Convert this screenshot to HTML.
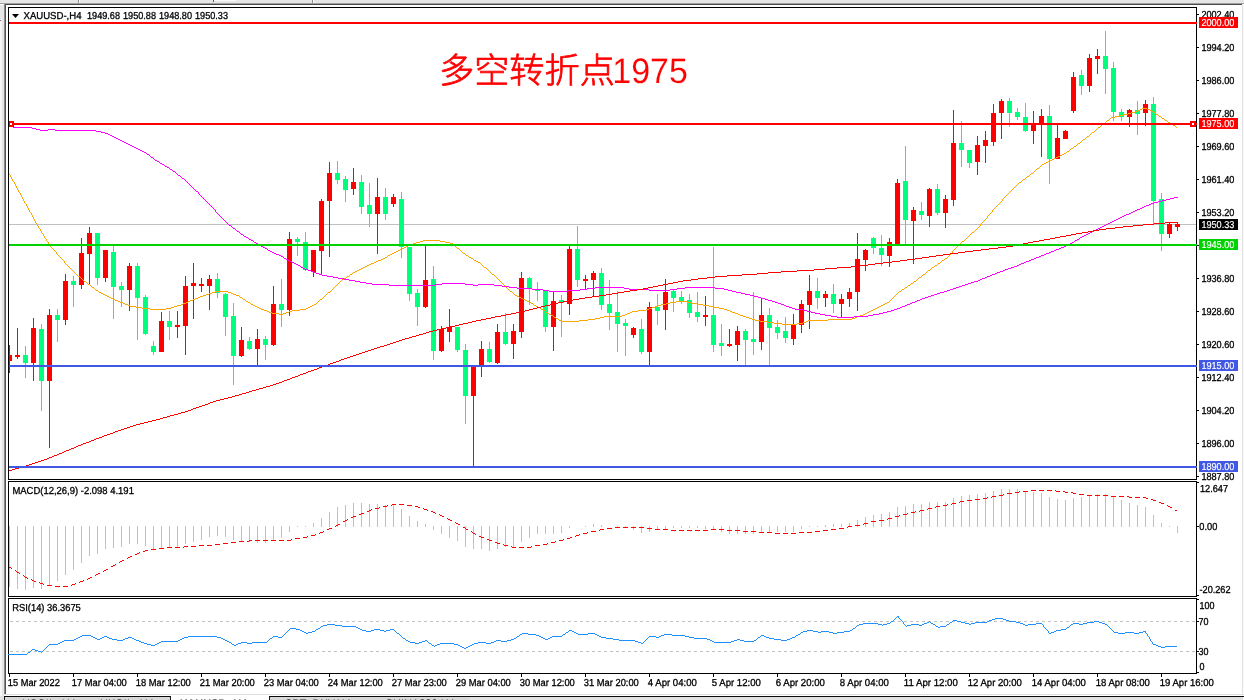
<!DOCTYPE html>
<html><head><meta charset="utf-8"><title>XAUUSD H4</title>
<style>
html,body{margin:0;padding:0;background:#fff;overflow:hidden}
svg{display:block}
text{font-family:"Liberation Sans",sans-serif;text-rendering:geometricPrecision;}
</style></head><body>
<svg width="1244" height="700" viewBox="0 0 1244 700">
<rect x="0" y="0" width="1244" height="700" fill="#ffffff"/>
<rect x="0" y="0" width="1244" height="3" fill="#e6e6e6"/>
<rect x="0" y="3" width="1244" height="1" fill="#a0a0a0"/>
<rect x="4" y="4" width="1238" height="1" fill="#4a4a4a"/>
<rect x="0" y="4" width="4" height="696" fill="#e6e6e6"/>
<rect x="0" y="4" width="4" height="1" fill="#ffffff"/>
<rect x="4" y="4" width="1" height="690" fill="#8a8a8a"/>
<rect x="5" y="4" width="1" height="690" fill="#555555"/>
<rect x="1242" y="5" width="1" height="690" fill="#e2e2e2"/>
<rect x="1243" y="5" width="1" height="695" fill="#fafafa"/>
<rect x="0" y="21" width="2" height="679" fill="#f6f6f6"/>
<rect x="0" y="20" width="1" height="1" fill="#777777"/>
<rect x="78" y="0" width="1" height="3" fill="#8c8c8c"/>
<rect x="79" y="0" width="1" height="3" fill="#ffffff"/>
<rect x="312" y="0" width="1" height="3" fill="#8c8c8c"/>
<rect x="313" y="0" width="1" height="3" fill="#ffffff"/>
<rect x="213" y="0" width="1" height="2" fill="#555555"/>
<rect x="214" y="0" width="22" height="1" fill="#f8f8f8"/>
<rect x="4" y="694" width="1240" height="1" fill="#dcdcdc"/>
<rect x="0" y="696" width="1243" height="4" fill="#e2e2e2"/>
<rect x="4" y="697" width="466" height="3" fill="#d8d8d8"/>
<rect x="4" y="696" width="1240" height="1" fill="#0a0a0a"/>
<rect x="4" y="697" width="1" height="3" fill="#1a1a1a"/>
<rect x="170" y="697" width="1" height="3" fill="#1a1a1a"/>
<rect x="171" y="696" width="98" height="4" fill="#ffffff"/>
<rect x="269" y="697" width="1" height="3" fill="#1a1a1a"/>
<rect x="8" y="7" width="1189" height="1" fill="#000"/>
<rect x="8" y="479" width="1189" height="1" fill="#000"/>
<rect x="8" y="7" width="1" height="473" fill="#000"/>
<rect x="1196" y="7" width="1" height="473" fill="#000"/>
<rect x="8" y="481" width="1189" height="1" fill="#000"/>
<rect x="8" y="596" width="1189" height="1" fill="#000"/>
<rect x="8" y="481" width="1" height="116" fill="#000"/>
<rect x="1196" y="481" width="1" height="116" fill="#000"/>
<rect x="8" y="598" width="1189" height="1" fill="#000"/>
<rect x="8" y="673" width="1189" height="1" fill="#000"/>
<rect x="8" y="598" width="1" height="76" fill="#000"/>
<rect x="1196" y="598" width="1" height="76" fill="#000"/>
<g shape-rendering="crispEdges">
<rect x="9" y="224" width="1187" height="1" fill="#c0c0c0"/>
<rect x="9" y="345" width="1" height="28" fill="#ff0000"/>
<rect x="9" y="355" width="3" height="6" fill="#ff0000"/>
<rect x="17" y="328" width="1" height="31" fill="#ff0000"/>
<rect x="15" y="355" width="5" height="2" fill="#ff0000"/>
<rect x="25" y="346" width="1" height="32" fill="#00ff7f"/>
<rect x="23" y="355" width="5" height="8" fill="#00ff7f"/>
<rect x="33" y="318" width="1" height="63" fill="#ff0000"/>
<rect x="31" y="328" width="5" height="35" fill="#ff0000"/>
<rect x="41" y="324" width="1" height="87" fill="#00ff7f"/>
<rect x="39" y="329" width="5" height="52" fill="#00ff7f"/>
<rect x="49" y="309" width="1" height="139" fill="#ff0000"/>
<rect x="47" y="315" width="5" height="66" fill="#ff0000"/>
<rect x="57" y="309" width="1" height="33" fill="#00ff7f"/>
<rect x="55" y="315" width="5" height="5" fill="#00ff7f"/>
<rect x="65" y="274" width="1" height="51" fill="#ff0000"/>
<rect x="63" y="281" width="5" height="39" fill="#ff0000"/>
<rect x="73" y="276" width="1" height="31" fill="#00ff7f"/>
<rect x="71" y="281" width="5" height="4" fill="#00ff7f"/>
<rect x="81" y="238" width="1" height="51" fill="#ff0000"/>
<rect x="79" y="253" width="5" height="32" fill="#ff0000"/>
<rect x="89" y="227" width="1" height="57" fill="#ff0000"/>
<rect x="87" y="233" width="5" height="21" fill="#ff0000"/>
<rect x="97" y="233" width="1" height="52" fill="#00ff7f"/>
<rect x="95" y="233" width="5" height="45" fill="#00ff7f"/>
<rect x="105" y="250" width="1" height="32" fill="#ff0000"/>
<rect x="103" y="250" width="5" height="28" fill="#ff0000"/>
<rect x="113" y="246" width="1" height="73" fill="#00ff7f"/>
<rect x="111" y="252" width="5" height="35" fill="#00ff7f"/>
<rect x="121" y="282" width="1" height="25" fill="#00ff7f"/>
<rect x="119" y="286" width="5" height="4" fill="#00ff7f"/>
<rect x="129" y="263" width="1" height="48" fill="#ff0000"/>
<rect x="127" y="266" width="5" height="24" fill="#ff0000"/>
<rect x="137" y="263" width="1" height="77" fill="#00ff7f"/>
<rect x="135" y="266" width="5" height="32" fill="#00ff7f"/>
<rect x="145" y="295" width="1" height="40" fill="#00ff7f"/>
<rect x="143" y="297" width="5" height="37" fill="#00ff7f"/>
<rect x="153" y="341" width="1" height="14" fill="#00ff7f"/>
<rect x="151" y="346" width="5" height="6" fill="#00ff7f"/>
<rect x="161" y="312" width="1" height="40" fill="#ff0000"/>
<rect x="159" y="321" width="5" height="31" fill="#ff0000"/>
<rect x="169" y="311" width="1" height="29" fill="#00ff7f"/>
<rect x="167" y="321" width="5" height="6" fill="#00ff7f"/>
<rect x="177" y="311" width="1" height="27" fill="#ff0000"/>
<rect x="175" y="325" width="5" height="2" fill="#ff0000"/>
<rect x="185" y="276" width="1" height="79" fill="#ff0000"/>
<rect x="183" y="286" width="5" height="40" fill="#ff0000"/>
<rect x="193" y="263" width="1" height="56" fill="#ff0000"/>
<rect x="191" y="283" width="5" height="3" fill="#ff0000"/>
<rect x="201" y="278" width="1" height="14" fill="#ff0000"/>
<rect x="199" y="284" width="5" height="2" fill="#ff0000"/>
<rect x="209" y="275" width="1" height="35" fill="#ff0000"/>
<rect x="207" y="279" width="5" height="7" fill="#ff0000"/>
<rect x="217" y="273" width="1" height="25" fill="#00ff7f"/>
<rect x="215" y="279" width="5" height="14" fill="#00ff7f"/>
<rect x="225" y="293" width="1" height="43" fill="#00ff7f"/>
<rect x="223" y="294" width="5" height="23" fill="#00ff7f"/>
<rect x="233" y="303" width="1" height="82" fill="#00ff7f"/>
<rect x="231" y="316" width="5" height="40" fill="#00ff7f"/>
<rect x="241" y="327" width="1" height="30" fill="#ff0000"/>
<rect x="239" y="340" width="5" height="16" fill="#ff0000"/>
<rect x="249" y="337" width="1" height="13" fill="#00ff7f"/>
<rect x="247" y="341" width="5" height="8" fill="#00ff7f"/>
<rect x="257" y="329" width="1" height="36" fill="#ff0000"/>
<rect x="255" y="339" width="5" height="10" fill="#ff0000"/>
<rect x="265" y="336" width="1" height="24" fill="#00ff7f"/>
<rect x="263" y="339" width="5" height="6" fill="#00ff7f"/>
<rect x="273" y="286" width="1" height="60" fill="#ff0000"/>
<rect x="271" y="304" width="5" height="41" fill="#ff0000"/>
<rect x="281" y="279" width="1" height="48" fill="#00ff7f"/>
<rect x="279" y="304" width="5" height="6" fill="#00ff7f"/>
<rect x="289" y="232" width="1" height="84" fill="#ff0000"/>
<rect x="287" y="239" width="5" height="71" fill="#ff0000"/>
<rect x="297" y="237" width="1" height="19" fill="#00ff7f"/>
<rect x="295" y="239" width="5" height="3" fill="#00ff7f"/>
<rect x="305" y="232" width="1" height="39" fill="#00ff7f"/>
<rect x="303" y="242" width="5" height="28" fill="#00ff7f"/>
<rect x="313" y="250" width="1" height="27" fill="#ff0000"/>
<rect x="311" y="250" width="5" height="22" fill="#ff0000"/>
<rect x="321" y="199" width="1" height="76" fill="#ff0000"/>
<rect x="319" y="201" width="5" height="50" fill="#ff0000"/>
<rect x="329" y="162" width="1" height="95" fill="#ff0000"/>
<rect x="327" y="173" width="5" height="28" fill="#ff0000"/>
<rect x="337" y="161" width="1" height="23" fill="#00ff7f"/>
<rect x="335" y="173" width="5" height="7" fill="#00ff7f"/>
<rect x="345" y="176" width="1" height="26" fill="#00ff7f"/>
<rect x="343" y="179" width="5" height="11" fill="#00ff7f"/>
<rect x="353" y="168" width="1" height="27" fill="#ff0000"/>
<rect x="351" y="182" width="5" height="7" fill="#ff0000"/>
<rect x="361" y="175" width="1" height="39" fill="#00ff7f"/>
<rect x="359" y="182" width="5" height="25" fill="#00ff7f"/>
<rect x="369" y="183" width="1" height="44" fill="#00ff7f"/>
<rect x="367" y="205" width="5" height="9" fill="#00ff7f"/>
<rect x="377" y="178" width="1" height="76" fill="#ff0000"/>
<rect x="375" y="197" width="5" height="17" fill="#ff0000"/>
<rect x="385" y="188" width="1" height="32" fill="#00ff7f"/>
<rect x="383" y="197" width="5" height="17" fill="#00ff7f"/>
<rect x="393" y="194" width="1" height="13" fill="#ff0000"/>
<rect x="391" y="197" width="5" height="7" fill="#ff0000"/>
<rect x="401" y="192" width="1" height="66" fill="#00ff7f"/>
<rect x="399" y="199" width="5" height="48" fill="#00ff7f"/>
<rect x="409" y="247" width="1" height="54" fill="#00ff7f"/>
<rect x="407" y="247" width="5" height="47" fill="#00ff7f"/>
<rect x="417" y="289" width="1" height="37" fill="#00ff7f"/>
<rect x="415" y="293" width="5" height="14" fill="#00ff7f"/>
<rect x="425" y="246" width="1" height="62" fill="#ff0000"/>
<rect x="423" y="280" width="5" height="27" fill="#ff0000"/>
<rect x="433" y="266" width="1" height="94" fill="#00ff7f"/>
<rect x="431" y="279" width="5" height="72" fill="#00ff7f"/>
<rect x="441" y="326" width="1" height="26" fill="#ff0000"/>
<rect x="439" y="329" width="5" height="22" fill="#ff0000"/>
<rect x="449" y="309" width="1" height="33" fill="#ff0000"/>
<rect x="447" y="327" width="5" height="5" fill="#ff0000"/>
<rect x="457" y="327" width="1" height="25" fill="#00ff7f"/>
<rect x="455" y="327" width="5" height="23" fill="#00ff7f"/>
<rect x="465" y="344" width="1" height="80" fill="#00ff7f"/>
<rect x="463" y="350" width="5" height="46" fill="#00ff7f"/>
<rect x="473" y="367" width="1" height="99" fill="#ff0000"/>
<rect x="471" y="367" width="5" height="29" fill="#ff0000"/>
<rect x="481" y="341" width="1" height="36" fill="#ff0000"/>
<rect x="479" y="349" width="5" height="16" fill="#ff0000"/>
<rect x="489" y="342" width="1" height="21" fill="#00ff7f"/>
<rect x="487" y="349" width="5" height="13" fill="#00ff7f"/>
<rect x="497" y="324" width="1" height="40" fill="#ff0000"/>
<rect x="495" y="332" width="5" height="31" fill="#ff0000"/>
<rect x="505" y="313" width="1" height="32" fill="#00ff7f"/>
<rect x="503" y="332" width="5" height="12" fill="#00ff7f"/>
<rect x="513" y="324" width="1" height="35" fill="#ff0000"/>
<rect x="511" y="331" width="5" height="13" fill="#ff0000"/>
<rect x="521" y="272" width="1" height="66" fill="#ff0000"/>
<rect x="519" y="278" width="5" height="54" fill="#ff0000"/>
<rect x="529" y="277" width="1" height="28" fill="#00ff7f"/>
<rect x="527" y="278" width="5" height="11" fill="#00ff7f"/>
<rect x="537" y="282" width="1" height="19" fill="#00ff7f"/>
<rect x="535" y="290" width="5" height="1" fill="#00ff7f"/>
<rect x="545" y="290" width="1" height="42" fill="#00ff7f"/>
<rect x="543" y="291" width="5" height="36" fill="#00ff7f"/>
<rect x="553" y="292" width="1" height="59" fill="#ff0000"/>
<rect x="551" y="301" width="5" height="26" fill="#ff0000"/>
<rect x="561" y="295" width="1" height="42" fill="#00ff7f"/>
<rect x="559" y="300" width="5" height="3" fill="#00ff7f"/>
<rect x="569" y="246" width="1" height="69" fill="#ff0000"/>
<rect x="567" y="249" width="5" height="55" fill="#ff0000"/>
<rect x="577" y="226" width="1" height="61" fill="#00ff7f"/>
<rect x="575" y="249" width="5" height="31" fill="#00ff7f"/>
<rect x="585" y="275" width="1" height="14" fill="#ff0000"/>
<rect x="583" y="279" width="5" height="2" fill="#ff0000"/>
<rect x="593" y="271" width="1" height="26" fill="#ff0000"/>
<rect x="591" y="273" width="5" height="7" fill="#ff0000"/>
<rect x="601" y="268" width="1" height="42" fill="#00ff7f"/>
<rect x="599" y="273" width="5" height="32" fill="#00ff7f"/>
<rect x="609" y="280" width="1" height="50" fill="#00ff7f"/>
<rect x="607" y="304" width="5" height="9" fill="#00ff7f"/>
<rect x="617" y="291" width="1" height="61" fill="#00ff7f"/>
<rect x="615" y="312" width="5" height="12" fill="#00ff7f"/>
<rect x="625" y="319" width="1" height="37" fill="#00ff7f"/>
<rect x="623" y="323" width="5" height="3" fill="#00ff7f"/>
<rect x="633" y="327" width="1" height="11" fill="#ff0000"/>
<rect x="631" y="328" width="5" height="7" fill="#ff0000"/>
<rect x="641" y="319" width="1" height="35" fill="#00ff7f"/>
<rect x="639" y="329" width="5" height="23" fill="#00ff7f"/>
<rect x="649" y="302" width="1" height="63" fill="#ff0000"/>
<rect x="647" y="307" width="5" height="45" fill="#ff0000"/>
<rect x="657" y="294" width="1" height="31" fill="#00ff7f"/>
<rect x="655" y="307" width="5" height="4" fill="#00ff7f"/>
<rect x="665" y="279" width="1" height="51" fill="#ff0000"/>
<rect x="663" y="292" width="5" height="18" fill="#ff0000"/>
<rect x="673" y="290" width="1" height="22" fill="#00ff7f"/>
<rect x="671" y="291" width="5" height="7" fill="#00ff7f"/>
<rect x="681" y="291" width="1" height="13" fill="#00ff7f"/>
<rect x="679" y="297" width="5" height="4" fill="#00ff7f"/>
<rect x="689" y="294" width="1" height="24" fill="#00ff7f"/>
<rect x="687" y="300" width="5" height="13" fill="#00ff7f"/>
<rect x="697" y="292" width="1" height="30" fill="#00ff7f"/>
<rect x="695" y="312" width="5" height="5" fill="#00ff7f"/>
<rect x="705" y="296" width="1" height="30" fill="#ff0000"/>
<rect x="703" y="315" width="5" height="2" fill="#ff0000"/>
<rect x="713" y="247" width="1" height="105" fill="#00ff7f"/>
<rect x="711" y="315" width="5" height="30" fill="#00ff7f"/>
<rect x="721" y="324" width="1" height="32" fill="#00ff7f"/>
<rect x="719" y="343" width="5" height="3" fill="#00ff7f"/>
<rect x="729" y="329" width="1" height="18" fill="#ff0000"/>
<rect x="727" y="344" width="5" height="2" fill="#ff0000"/>
<rect x="737" y="326" width="1" height="35" fill="#ff0000"/>
<rect x="735" y="331" width="5" height="14" fill="#ff0000"/>
<rect x="745" y="329" width="1" height="36" fill="#00ff7f"/>
<rect x="743" y="331" width="5" height="9" fill="#00ff7f"/>
<rect x="753" y="292" width="1" height="63" fill="#00ff7f"/>
<rect x="751" y="339" width="5" height="3" fill="#00ff7f"/>
<rect x="761" y="299" width="1" height="51" fill="#ff0000"/>
<rect x="759" y="315" width="5" height="27" fill="#ff0000"/>
<rect x="769" y="308" width="1" height="57" fill="#00ff7f"/>
<rect x="767" y="315" width="5" height="13" fill="#00ff7f"/>
<rect x="777" y="320" width="1" height="19" fill="#00ff7f"/>
<rect x="775" y="327" width="5" height="6" fill="#00ff7f"/>
<rect x="785" y="317" width="1" height="26" fill="#00ff7f"/>
<rect x="783" y="331" width="5" height="7" fill="#00ff7f"/>
<rect x="793" y="314" width="1" height="31" fill="#ff0000"/>
<rect x="791" y="325" width="5" height="14" fill="#ff0000"/>
<rect x="801" y="300" width="1" height="33" fill="#ff0000"/>
<rect x="799" y="304" width="5" height="21" fill="#ff0000"/>
<rect x="809" y="275" width="1" height="54" fill="#ff0000"/>
<rect x="807" y="291" width="5" height="14" fill="#ff0000"/>
<rect x="817" y="278" width="1" height="31" fill="#00ff7f"/>
<rect x="815" y="291" width="5" height="7" fill="#00ff7f"/>
<rect x="825" y="291" width="1" height="16" fill="#ff0000"/>
<rect x="823" y="294" width="5" height="4" fill="#ff0000"/>
<rect x="833" y="284" width="1" height="29" fill="#00ff7f"/>
<rect x="831" y="294" width="5" height="10" fill="#00ff7f"/>
<rect x="841" y="294" width="1" height="23" fill="#ff0000"/>
<rect x="839" y="299" width="5" height="5" fill="#ff0000"/>
<rect x="849" y="288" width="1" height="19" fill="#ff0000"/>
<rect x="847" y="292" width="5" height="7" fill="#ff0000"/>
<rect x="857" y="233" width="1" height="78" fill="#ff0000"/>
<rect x="855" y="259" width="5" height="33" fill="#ff0000"/>
<rect x="865" y="249" width="1" height="22" fill="#ff0000"/>
<rect x="863" y="250" width="5" height="10" fill="#ff0000"/>
<rect x="873" y="237" width="1" height="17" fill="#00ff7f"/>
<rect x="871" y="238" width="5" height="10" fill="#00ff7f"/>
<rect x="881" y="235" width="1" height="31" fill="#00ff7f"/>
<rect x="879" y="248" width="5" height="7" fill="#00ff7f"/>
<rect x="889" y="238" width="1" height="29" fill="#ff0000"/>
<rect x="887" y="242" width="5" height="14" fill="#ff0000"/>
<rect x="897" y="179" width="1" height="67" fill="#ff0000"/>
<rect x="895" y="183" width="5" height="63" fill="#ff0000"/>
<rect x="905" y="146" width="1" height="100" fill="#00ff7f"/>
<rect x="903" y="181" width="5" height="39" fill="#00ff7f"/>
<rect x="913" y="207" width="1" height="57" fill="#ff0000"/>
<rect x="911" y="210" width="5" height="11" fill="#ff0000"/>
<rect x="921" y="202" width="1" height="18" fill="#00ff7f"/>
<rect x="919" y="211" width="5" height="4" fill="#00ff7f"/>
<rect x="929" y="188" width="1" height="39" fill="#ff0000"/>
<rect x="927" y="189" width="5" height="27" fill="#ff0000"/>
<rect x="937" y="184" width="1" height="31" fill="#00ff7f"/>
<rect x="935" y="189" width="5" height="24" fill="#00ff7f"/>
<rect x="945" y="195" width="1" height="33" fill="#ff0000"/>
<rect x="943" y="199" width="5" height="14" fill="#ff0000"/>
<rect x="953" y="110" width="1" height="96" fill="#ff0000"/>
<rect x="951" y="143" width="5" height="57" fill="#ff0000"/>
<rect x="961" y="121" width="1" height="46" fill="#00ff7f"/>
<rect x="959" y="143" width="5" height="7" fill="#00ff7f"/>
<rect x="969" y="150" width="1" height="18" fill="#00ff7f"/>
<rect x="967" y="150" width="5" height="13" fill="#00ff7f"/>
<rect x="977" y="136" width="1" height="39" fill="#ff0000"/>
<rect x="975" y="145" width="5" height="17" fill="#ff0000"/>
<rect x="985" y="131" width="1" height="32" fill="#ff0000"/>
<rect x="983" y="140" width="5" height="6" fill="#ff0000"/>
<rect x="993" y="104" width="1" height="42" fill="#ff0000"/>
<rect x="991" y="113" width="5" height="29" fill="#ff0000"/>
<rect x="1001" y="99" width="1" height="40" fill="#ff0000"/>
<rect x="999" y="101" width="5" height="12" fill="#ff0000"/>
<rect x="1009" y="98" width="1" height="29" fill="#00ff7f"/>
<rect x="1007" y="101" width="5" height="12" fill="#00ff7f"/>
<rect x="1017" y="108" width="1" height="12" fill="#00ff7f"/>
<rect x="1015" y="112" width="5" height="5" fill="#00ff7f"/>
<rect x="1025" y="103" width="1" height="29" fill="#00ff7f"/>
<rect x="1023" y="117" width="5" height="14" fill="#00ff7f"/>
<rect x="1033" y="111" width="1" height="33" fill="#ff0000"/>
<rect x="1031" y="125" width="5" height="6" fill="#ff0000"/>
<rect x="1041" y="109" width="1" height="48" fill="#ff0000"/>
<rect x="1039" y="116" width="5" height="9" fill="#ff0000"/>
<rect x="1049" y="105" width="1" height="79" fill="#00ff7f"/>
<rect x="1047" y="116" width="5" height="43" fill="#00ff7f"/>
<rect x="1057" y="125" width="1" height="34" fill="#ff0000"/>
<rect x="1055" y="138" width="5" height="21" fill="#ff0000"/>
<rect x="1065" y="130" width="1" height="9" fill="#ff0000"/>
<rect x="1063" y="131" width="5" height="8" fill="#ff0000"/>
<rect x="1073" y="72" width="1" height="41" fill="#ff0000"/>
<rect x="1071" y="77" width="5" height="34" fill="#ff0000"/>
<rect x="1081" y="70" width="1" height="25" fill="#00ff7f"/>
<rect x="1079" y="75" width="5" height="11" fill="#00ff7f"/>
<rect x="1089" y="54" width="1" height="38" fill="#ff0000"/>
<rect x="1087" y="58" width="5" height="28" fill="#ff0000"/>
<rect x="1097" y="49" width="1" height="25" fill="#ff0000"/>
<rect x="1095" y="56" width="5" height="3" fill="#ff0000"/>
<rect x="1105" y="31" width="1" height="63" fill="#00ff7f"/>
<rect x="1103" y="56" width="5" height="13" fill="#00ff7f"/>
<rect x="1113" y="62" width="1" height="59" fill="#00ff7f"/>
<rect x="1111" y="68" width="5" height="44" fill="#00ff7f"/>
<rect x="1121" y="109" width="1" height="12" fill="#00ff7f"/>
<rect x="1119" y="112" width="5" height="5" fill="#00ff7f"/>
<rect x="1129" y="109" width="1" height="18" fill="#ff0000"/>
<rect x="1127" y="110" width="5" height="7" fill="#ff0000"/>
<rect x="1137" y="101" width="1" height="34" fill="#00ff7f"/>
<rect x="1135" y="110" width="5" height="4" fill="#00ff7f"/>
<rect x="1145" y="100" width="1" height="26" fill="#ff0000"/>
<rect x="1143" y="104" width="5" height="9" fill="#ff0000"/>
<rect x="1153" y="97" width="1" height="127" fill="#00ff7f"/>
<rect x="1151" y="104" width="5" height="97" fill="#00ff7f"/>
<rect x="1161" y="193" width="1" height="58" fill="#00ff7f"/>
<rect x="1159" y="199" width="5" height="35" fill="#00ff7f"/>
<rect x="1169" y="223" width="1" height="15" fill="#ff0000"/>
<rect x="1167" y="224" width="5" height="10" fill="#ff0000"/>
<rect x="1177" y="223" width="1" height="8" fill="#ff0000"/>
<rect x="1175" y="224" width="5" height="3" fill="#ff0000"/>
</g>
<path d="M9 174h1v1h-1zM10 175h1v2h-1zM11 177h1v2h-1zM12 179h1v2h-1zM13 181h1v1h-1zM14 182h1v2h-1zM15 184h1v2h-1zM16 186h1v2h-1zM17 188h1v2h-1zM18 190h1v2h-1zM19 192h1v1h-1zM20 193h1v2h-1zM21 195h1v2h-1zM22 197h1v2h-1zM23 199h1v2h-1zM24 201h1v2h-1zM25 203h1v1h-1zM26 204h1v2h-1zM27 206h1v2h-1zM28 208h1v2h-1zM29 210h1v2h-1zM30 212h1v1h-1zM31 213h1v2h-1zM32 215h1v2h-1zM33 217h1v2h-1zM34 219h1v2h-1zM35 221h1v2h-1zM36 223h1v1h-1zM37 224h1v2h-1zM38 226h1v2h-1zM39 228h1v1h-1zM40 229h1v2h-1zM41 231h1v2h-1zM42 233h1v1h-1zM43 234h1v2h-1zM44 236h1v2h-1zM45 238h1v1h-1zM46 239h1v2h-1zM47 241h1v1h-1zM48 242h1v2h-1zM49 244h1v2h-1zM50 246h1v1h-1zM51 247h1v1h-1zM52 248h1v1h-1zM53 249h1v1h-1zM54 250h1v1h-1zM55 251h1v1h-1zM56 252h1v2h-1zM57 254h1v1h-1zM58 255h1v1h-1zM59 256h1v1h-1zM60 257h1v1h-1zM61 258h1v1h-1zM62 259h1v1h-1zM63 260h1v1h-1zM64 261h1v2h-1zM65 263h1v1h-1zM66 264h1v1h-1zM67 265h1v1h-1zM68 266h1v1h-1zM69 267h1v1h-1zM70 268h1v1h-1zM71 269h1v1h-1zM72 270h1v1h-1zM73 271h1v1h-1zM74 272h1v1h-1zM75 273h1v1h-1zM76 274h1v1h-1zM77 275h1v1h-1zM78 276h2v1h-2zM80 277h1v1h-1zM81 278h1v1h-1zM82 279h1v1h-1zM83 280h1v1h-1zM84 281h2v1h-2zM86 282h1v1h-1zM87 283h1v1h-1zM88 284h2v1h-2zM90 285h1v1h-1zM91 286h1v1h-1zM92 287h2v1h-2zM94 288h1v1h-1zM95 289h1v1h-1zM96 290h2v1h-2zM98 291h1v1h-1zM99 292h2v1h-2zM101 293h2v1h-2zM103 294h2v1h-2zM105 295h2v1h-2zM107 296h2v1h-2zM109 297h2v1h-2zM111 298h2v1h-2zM113 299h2v1h-2zM115 300h3v1h-3zM118 301h2v1h-2zM120 302h3v1h-3zM123 303h2v1h-2zM125 304h3v1h-3zM128 305h2v1h-2zM130 306h6v1h-6zM136 307h6v1h-6zM142 308h8v1h-8zM150 309h16v1h-16zM166 308h5v1h-5zM171 307h3v1h-3zM174 306h3v1h-3zM177 305h4v1h-4zM181 304h2v1h-2zM183 303h3v1h-3zM186 302h2v1h-2zM188 301h2v1h-2zM190 300h3v1h-3zM193 299h2v1h-2zM195 298h3v1h-3zM198 297h2v1h-2zM200 296h3v1h-3zM203 295h3v1h-3zM206 294h3v1h-3zM209 293h3v1h-3zM212 292h3v1h-3zM215 291h2v1h-2zM217 290h1v1h-1zM218 291h10v1h-10zM228 292h3v1h-3zM231 293h2v1h-2zM233 294h3v1h-3zM236 295h3v1h-3zM239 296h1v1h-1zM240 297h2v1h-2zM242 298h1v1h-1zM243 299h2v1h-2zM245 300h1v1h-1zM246 301h2v1h-2zM248 302h2v1h-2zM250 303h1v1h-1zM251 304h2v1h-2zM253 305h2v1h-2zM255 306h2v1h-2zM257 307h2v1h-2zM259 308h2v1h-2zM261 309h3v1h-3zM264 310h3v1h-3zM267 311h2v1h-2zM269 312h3v1h-3zM272 313h7v1h-7zM279 314h4v1h-4zM283 313h3v1h-3zM286 312h3v1h-3zM289 311h3v1h-3zM292 310h8v1h-8zM300 309h6v1h-6zM306 308h2v1h-2zM308 307h2v1h-2zM310 306h2v1h-2zM312 305h2v1h-2zM314 304h2v1h-2zM316 303h1v1h-1zM317 302h1v1h-1zM318 301h1v1h-1zM319 300h1v1h-1zM320 299h2v1h-2zM322 298h1v1h-1zM323 297h1v1h-1zM324 296h1v1h-1zM325 295h1v1h-1zM326 294h1v1h-1zM327 293h1v1h-1zM328 292h2v1h-2zM330 291h1v1h-1zM331 290h1v1h-1zM332 289h1v1h-1zM333 288h1v1h-1zM334 287h1v1h-1zM335 286h1v1h-1zM336 285h1v1h-1zM337 284h1v1h-1zM338 283h1v1h-1zM339 282h1v1h-1zM340 281h1v1h-1zM341 280h1v1h-1zM342 279h2v1h-2zM344 278h2v1h-2zM346 277h1v1h-1zM347 276h2v1h-2zM349 275h1v1h-1zM350 274h2v1h-2zM352 273h1v1h-1zM353 272h2v1h-2zM355 271h2v1h-2zM357 270h2v1h-2zM359 269h2v1h-2zM361 268h2v1h-2zM363 267h2v1h-2zM365 266h2v1h-2zM367 265h2v1h-2zM369 264h2v1h-2zM371 263h3v1h-3zM374 262h2v1h-2zM376 261h2v1h-2zM378 260h3v1h-3zM381 259h2v1h-2zM383 258h2v1h-2zM385 257h2v1h-2zM387 256h1v1h-1zM388 255h2v1h-2zM390 254h2v1h-2zM392 253h2v1h-2zM394 252h2v1h-2zM396 251h2v1h-2zM398 250h2v1h-2zM400 249h2v1h-2zM402 248h2v1h-2zM404 247h2v1h-2zM406 246h2v1h-2zM408 245h2v1h-2zM410 244h3v1h-3zM413 243h3v1h-3zM416 242h4v1h-4zM420 241h3v1h-3zM423 240h17v1h-17zM440 241h5v1h-5zM445 242h5v1h-5zM450 243h3v1h-3zM453 244h1v1h-1zM454 245h1v1h-1zM455 246h1v1h-1zM456 247h1v1h-1zM457 248h2v1h-2zM459 249h1v1h-1zM460 250h1v1h-1zM461 251h1v1h-1zM462 252h1v1h-1zM463 253h2v1h-2zM465 254h1v1h-1zM466 255h2v1h-2zM468 256h1v1h-1zM469 257h2v1h-2zM471 258h2v1h-2zM473 259h1v1h-1zM474 260h2v1h-2zM476 261h2v1h-2zM478 262h2v1h-2zM480 263h1v1h-1zM481 264h1v1h-1zM482 265h1v1h-1zM483 266h1v1h-1zM484 267h2v1h-2zM486 268h1v1h-1zM487 269h1v1h-1zM488 270h1v1h-1zM489 271h1v1h-1zM490 272h1v1h-1zM491 273h1v1h-1zM492 274h2v1h-2zM494 275h1v1h-1zM495 276h1v1h-1zM496 277h1v1h-1zM497 278h1v1h-1zM498 279h1v1h-1zM499 280h1v1h-1zM500 281h1v1h-1zM501 282h1v1h-1zM502 283h1v1h-1zM503 284h1v1h-1zM504 285h1v1h-1zM505 286h1v1h-1zM506 287h1v1h-1zM507 288h1v1h-1zM508 289h1v1h-1zM509 290h1v1h-1zM510 291h2v1h-2zM512 292h1v1h-1zM513 293h1v1h-1zM514 294h1v1h-1zM515 295h2v1h-2zM517 296h2v1h-2zM519 297h2v1h-2zM521 298h2v1h-2zM523 299h2v1h-2zM525 300h2v1h-2zM527 301h2v1h-2zM529 302h2v1h-2zM531 303h2v1h-2zM533 304h1v1h-1zM534 305h2v1h-2zM536 306h2v1h-2zM538 307h2v1h-2zM540 308h1v1h-1zM541 309h2v1h-2zM543 310h2v1h-2zM545 311h1v1h-1zM546 312h2v1h-2zM548 313h1v1h-1zM549 314h2v1h-2zM551 315h2v1h-2zM553 316h1v1h-1zM554 317h2v1h-2zM556 318h2v1h-2zM558 319h1v1h-1zM559 320h2v1h-2zM561 321h18v1h-18zM579 320h9v1h-9zM588 319h7v1h-7zM595 318h5v1h-5zM600 317h4v1h-4zM604 316h18v1h-18zM622 315h3v1h-3zM625 314h2v1h-2zM627 313h3v1h-3zM630 312h2v1h-2zM632 311h6v1h-6zM638 310h8v1h-8zM646 309h3v1h-3zM649 308h3v1h-3zM652 307h3v1h-3zM655 306h3v1h-3zM658 305h3v1h-3zM661 304h5v1h-5zM666 303h4v1h-4zM670 302h6v1h-6zM676 301h11v1h-11zM687 302h4v1h-4zM691 303h6v1h-6zM697 304h6v1h-6zM703 305h6v1h-6zM709 306h5v1h-5zM714 307h5v1h-5zM719 308h5v1h-5zM724 309h3v1h-3zM727 310h3v1h-3zM730 311h2v1h-2zM732 312h3v1h-3zM735 313h3v1h-3zM738 314h2v1h-2zM740 315h3v1h-3zM743 316h3v1h-3zM746 317h3v1h-3zM749 318h3v1h-3zM752 319h3v1h-3zM755 320h5v1h-5zM760 321h7v1h-7zM767 322h7v1h-7zM774 323h8v1h-8zM782 324h15v1h-15zM797 323h6v1h-6zM803 322h3v1h-3zM806 321h2v1h-2zM808 320h20v1h-20zM828 319h24v1h-24zM852 318h3v1h-3zM855 317h2v1h-2zM857 316h3v1h-3zM860 315h3v1h-3zM863 314h2v1h-2zM865 313h2v1h-2zM867 312h2v1h-2zM869 311h2v1h-2zM871 310h2v1h-2zM873 309h2v1h-2zM875 308h2v1h-2zM877 307h2v1h-2zM879 306h2v1h-2zM881 305h2v1h-2zM883 304h2v1h-2zM885 303h2v1h-2zM887 302h2v1h-2zM889 301h1v1h-1zM890 300h1v1h-1zM891 299h1v1h-1zM892 298h1v1h-1zM893 297h1v1h-1zM894 296h1v1h-1zM895 295h1v1h-1zM896 294h1v1h-1zM897 293h1v1h-1zM898 292h1v1h-1zM899 291h2v1h-2zM901 290h1v1h-1zM902 289h2v1h-2zM904 288h1v1h-1zM905 287h2v1h-2zM907 286h1v1h-1zM908 285h2v1h-2zM910 284h1v1h-1zM911 283h2v1h-2zM913 282h1v1h-1zM914 281h2v1h-2zM916 280h1v1h-1zM917 279h1v1h-1zM918 278h1v1h-1zM919 277h2v1h-2zM921 276h1v1h-1zM922 275h1v1h-1zM923 274h2v1h-2zM925 273h1v1h-1zM926 272h1v1h-1zM927 271h1v1h-1zM928 270h2v1h-2zM930 269h1v1h-1zM931 268h1v1h-1zM932 267h2v1h-2zM934 266h1v1h-1zM935 265h2v1h-2zM937 264h1v1h-1zM938 263h2v1h-2zM940 262h1v1h-1zM941 261h1v1h-1zM942 260h2v1h-2zM944 259h1v1h-1zM945 258h2v1h-2zM947 257h1v1h-1zM948 256h1v1h-1zM949 255h1v1h-1zM950 254h1v1h-1zM951 253h1v1h-1zM952 251h1v2h-1zM953 250h1v1h-1zM954 249h1v1h-1zM955 248h1v1h-1zM956 247h1v1h-1zM957 246h1v1h-1zM958 245h1v1h-1zM959 244h1v1h-1zM960 243h1v1h-1zM961 242h1v1h-1zM962 241h2v1h-2zM964 240h1v1h-1zM965 239h1v1h-1zM966 238h1v1h-1zM967 237h1v1h-1zM968 236h1v1h-1zM969 235h1v1h-1zM970 234h1v1h-1zM971 233h1v1h-1zM972 232h2v1h-2zM974 231h1v1h-1zM975 230h1v1h-1zM976 229h1v1h-1zM977 228h1v1h-1zM978 227h1v1h-1zM979 226h1v1h-1zM980 224h1v2h-1zM981 223h1v1h-1zM982 222h1v1h-1zM983 221h1v1h-1zM984 220h1v1h-1zM985 219h1v1h-1zM986 218h1v1h-1zM987 216h1v2h-1zM988 215h1v1h-1zM989 214h1v1h-1zM990 213h1v1h-1zM991 212h1v1h-1zM992 210h1v2h-1zM993 209h1v1h-1zM994 208h1v1h-1zM995 207h1v1h-1zM996 206h1v1h-1zM997 205h1v1h-1zM998 204h1v1h-1zM999 203h1v1h-1zM1000 202h1v1h-1zM1001 201h1v1h-1zM1002 199h1v2h-1zM1003 198h1v1h-1zM1004 197h1v1h-1zM1005 196h1v1h-1zM1006 195h1v1h-1zM1007 194h1v1h-1zM1008 193h1v1h-1zM1009 192h1v1h-1zM1010 191h1v1h-1zM1011 190h1v1h-1zM1012 189h1v1h-1zM1013 188h1v1h-1zM1014 187h1v1h-1zM1015 186h1v1h-1zM1016 185h1v1h-1zM1017 184h1v1h-1zM1018 183h1v1h-1zM1019 182h2v1h-2zM1021 181h1v1h-1zM1022 180h1v1h-1zM1023 179h2v1h-2zM1025 178h1v1h-1zM1026 177h1v1h-1zM1027 176h2v1h-2zM1029 175h1v1h-1zM1030 174h1v1h-1zM1031 173h2v1h-2zM1033 172h1v1h-1zM1034 171h1v1h-1zM1035 170h1v1h-1zM1036 169h1v1h-1zM1037 168h2v1h-2zM1039 167h1v1h-1zM1040 166h1v1h-1zM1041 165h1v1h-1zM1042 164h2v1h-2zM1044 163h2v1h-2zM1046 162h2v1h-2zM1048 161h2v1h-2zM1050 160h2v1h-2zM1052 159h2v1h-2zM1054 158h2v1h-2zM1056 157h2v1h-2zM1058 156h2v1h-2zM1060 155h2v1h-2zM1062 154h2v1h-2zM1064 153h2v1h-2zM1066 152h1v1h-1zM1067 151h2v1h-2zM1069 150h1v1h-1zM1070 149h1v1h-1zM1071 148h2v1h-2zM1073 147h1v1h-1zM1074 146h2v1h-2zM1076 145h1v1h-1zM1077 144h1v1h-1zM1078 143h2v1h-2zM1080 142h1v1h-1zM1081 141h1v1h-1zM1082 140h1v1h-1zM1083 139h2v1h-2zM1085 138h1v1h-1zM1086 137h1v1h-1zM1087 136h2v1h-2zM1089 135h1v1h-1zM1090 134h1v1h-1zM1091 133h1v1h-1zM1092 132h2v1h-2zM1094 131h1v1h-1zM1095 130h1v1h-1zM1096 129h1v1h-1zM1097 128h1v1h-1zM1098 127h2v1h-2zM1100 126h1v1h-1zM1101 125h1v1h-1zM1102 124h1v1h-1zM1103 123h2v1h-2zM1105 122h1v1h-1zM1106 121h1v1h-1zM1107 120h2v1h-2zM1109 119h1v1h-1zM1110 118h1v1h-1zM1111 117h4v1h-4zM1115 116h5v1h-5zM1120 115h4v1h-4zM1124 114h4v1h-4zM1128 113h3v1h-3zM1131 112h4v1h-4zM1135 111h2v1h-2zM1137 110h3v1h-3zM1140 109h2v1h-2zM1142 108h5v1h-5zM1147 109h3v1h-3zM1150 110h1v1h-1zM1151 111h2v1h-2zM1153 112h2v1h-2zM1155 113h1v1h-1zM1156 114h2v1h-2zM1158 115h1v1h-1zM1159 116h2v1h-2zM1161 117h1v1h-1zM1162 118h2v1h-2zM1164 119h1v1h-1zM1165 120h2v1h-2zM1167 121h1v1h-1zM1168 122h2v1h-2zM1170 123h2v1h-2zM1172 124h1v1h-1zM1173 125h2v1h-2zM1175 126h1v1h-1zM1176 127h1v1h-1z" fill="#ffa500" shape-rendering="crispEdges"/>
<path d="M9 126h4v1h-4zM13 127h19v1h-19zM32 128h4v1h-4zM36 129h4v1h-4zM40 130h8v1h-8zM48 129h7v1h-7zM55 130h41v1h-41zM96 131h5v1h-5zM101 132h4v1h-4zM105 133h3v1h-3zM108 134h2v1h-2zM110 135h2v1h-2zM112 136h2v1h-2zM114 137h2v1h-2zM116 138h2v1h-2zM118 139h2v1h-2zM120 140h2v1h-2zM122 141h2v1h-2zM124 142h2v1h-2zM126 143h2v1h-2zM128 144h2v1h-2zM130 145h2v1h-2zM132 146h2v1h-2zM134 147h2v1h-2zM136 148h2v1h-2zM138 149h2v1h-2zM140 150h2v1h-2zM142 151h2v1h-2zM144 152h2v1h-2zM146 153h1v1h-1zM147 154h2v1h-2zM149 155h1v1h-1zM150 156h1v1h-1zM151 157h2v1h-2zM153 158h1v1h-1zM154 159h1v1h-1zM155 160h2v1h-2zM157 161h2v1h-2zM159 162h1v1h-1zM160 163h2v1h-2zM162 164h2v1h-2zM164 165h1v1h-1zM165 166h2v1h-2zM167 167h2v1h-2zM169 168h1v1h-1zM170 169h2v1h-2zM172 170h1v1h-1zM173 171h2v1h-2zM175 172h1v1h-1zM176 173h1v1h-1zM177 174h1v1h-1zM178 175h2v1h-2zM180 176h1v1h-1zM181 177h1v1h-1zM182 178h2v1h-2zM184 179h1v1h-1zM185 180h1v1h-1zM186 181h1v1h-1zM187 182h1v1h-1zM188 183h1v1h-1zM189 184h1v1h-1zM190 185h1v1h-1zM191 186h1v1h-1zM192 187h1v1h-1zM193 188h1v1h-1zM194 189h1v1h-1zM195 190h1v1h-1zM196 191h2v1h-2zM198 192h1v2h-1zM199 194h1v1h-1zM200 195h1v1h-1zM201 196h1v1h-1zM202 197h1v1h-1zM203 198h1v1h-1zM204 199h1v1h-1zM205 200h1v1h-1zM206 201h1v1h-1zM207 202h1v1h-1zM208 203h1v1h-1zM209 204h1v1h-1zM210 205h1v1h-1zM211 206h1v1h-1zM212 207h1v1h-1zM213 208h1v1h-1zM214 209h1v1h-1zM215 210h1v2h-1zM216 212h1v1h-1zM217 213h1v1h-1zM218 214h1v1h-1zM219 215h1v1h-1zM220 216h1v1h-1zM221 217h1v1h-1zM222 218h1v1h-1zM223 219h1v1h-1zM224 220h1v1h-1zM225 221h1v1h-1zM226 222h1v1h-1zM227 223h1v1h-1zM228 224h1v1h-1zM229 225h2v1h-2zM231 226h1v1h-1zM232 227h1v1h-1zM233 228h2v1h-2zM235 229h1v1h-1zM236 230h1v1h-1zM237 231h2v1h-2zM239 232h1v1h-1zM240 233h1v1h-1zM241 234h2v1h-2zM243 235h1v1h-1zM244 236h2v1h-2zM246 237h2v1h-2zM248 238h1v1h-1zM249 239h2v1h-2zM251 240h2v1h-2zM253 241h1v1h-1zM254 242h2v1h-2zM256 243h2v1h-2zM258 244h1v1h-1zM259 245h2v1h-2zM261 246h2v1h-2zM263 247h2v1h-2zM265 248h2v1h-2zM267 249h1v1h-1zM268 250h2v1h-2zM270 251h2v1h-2zM272 252h2v1h-2zM274 253h2v1h-2zM276 254h3v1h-3zM279 255h2v1h-2zM281 256h2v1h-2zM283 257h1v1h-1zM284 258h2v1h-2zM286 259h2v1h-2zM288 260h2v1h-2zM290 261h2v1h-2zM292 262h2v1h-2zM294 263h2v1h-2zM296 264h2v1h-2zM298 265h2v1h-2zM300 266h1v1h-1zM301 267h2v1h-2zM303 268h2v1h-2zM305 269h3v1h-3zM308 270h3v1h-3zM311 271h2v1h-2zM313 272h3v1h-3zM316 273h3v1h-3zM319 274h3v1h-3zM322 275h5v1h-5zM327 276h6v1h-6zM333 277h5v1h-5zM338 278h6v1h-6zM344 279h5v1h-5zM349 280h6v1h-6zM355 281h5v1h-5zM360 282h6v1h-6zM366 283h6v1h-6zM372 284h17v1h-17zM389 285h46v1h-46zM435 284h7v1h-7zM442 283h23v1h-23zM465 284h8v1h-8zM473 285h5v1h-5zM478 284h16v1h-16zM494 285h8v1h-8zM502 286h7v1h-7zM509 287h8v1h-8zM517 288h15v1h-15zM532 289h11v1h-11zM543 290h6v1h-6zM549 291h18v1h-18zM567 290h13v1h-13zM580 289h7v1h-7zM587 288h8v1h-8zM595 287h29v1h-29zM624 288h5v1h-5zM629 289h20v1h-20zM649 290h21v1h-21zM670 289h7v1h-7zM677 288h8v1h-8zM685 287h30v1h-30zM715 288h9v1h-9zM724 289h4v1h-4zM728 290h4v1h-4zM732 291h4v1h-4zM736 292h5v1h-5zM741 293h4v1h-4zM745 294h5v1h-5zM750 295h4v1h-4zM754 296h4v1h-4zM758 297h3v1h-3zM761 298h4v1h-4zM765 299h3v1h-3zM768 300h4v1h-4zM772 301h3v1h-3zM775 302h3v1h-3zM778 303h3v1h-3zM781 304h3v1h-3zM784 305h2v1h-2zM786 306h3v1h-3zM789 307h3v1h-3zM792 308h3v1h-3zM795 309h8v1h-8zM803 310h4v1h-4zM807 311h4v1h-4zM811 312h4v1h-4zM815 313h5v1h-5zM820 314h5v1h-5zM825 315h6v1h-6zM831 316h6v1h-6zM837 317h17v1h-17zM854 316h14v1h-14zM868 315h5v1h-5zM873 314h6v1h-6zM879 313h4v1h-4zM883 312h4v1h-4zM887 311h4v1h-4zM891 310h3v1h-3zM894 309h3v1h-3zM897 308h3v1h-3zM900 307h2v1h-2zM902 306h3v1h-3zM905 305h2v1h-2zM907 304h3v1h-3zM910 303h2v1h-2zM912 302h3v1h-3zM915 301h2v1h-2zM917 300h3v1h-3zM920 299h2v1h-2zM922 298h3v1h-3zM925 297h3v1h-3zM928 296h3v1h-3zM931 295h3v1h-3zM934 294h3v1h-3zM937 293h3v1h-3zM940 292h4v1h-4zM944 291h3v1h-3zM947 290h3v1h-3zM950 289h3v1h-3zM953 288h3v1h-3zM956 287h3v1h-3zM959 286h3v1h-3zM962 285h3v1h-3zM965 284h3v1h-3zM968 283h3v1h-3zM971 282h3v1h-3zM974 281h4v1h-4zM978 280h2v1h-2zM980 279h2v1h-2zM982 278h3v1h-3zM985 277h2v1h-2zM987 276h3v1h-3zM990 275h2v1h-2zM992 274h3v1h-3zM995 273h2v1h-2zM997 272h3v1h-3zM1000 271h3v1h-3zM1003 270h2v1h-2zM1005 269h3v1h-3zM1008 268h3v1h-3zM1011 267h3v1h-3zM1014 266h3v1h-3zM1017 265h2v1h-2zM1019 264h2v1h-2zM1021 263h3v1h-3zM1024 262h2v1h-2zM1026 261h3v1h-3zM1029 260h2v1h-2zM1031 259h3v1h-3zM1034 258h2v1h-2zM1036 257h3v1h-3zM1039 256h2v1h-2zM1041 255h3v1h-3zM1044 254h2v1h-2zM1046 253h3v1h-3zM1049 252h2v1h-2zM1051 251h3v1h-3zM1054 250h2v1h-2zM1056 249h3v1h-3zM1059 248h2v1h-2zM1061 247h3v1h-3zM1064 246h2v1h-2zM1066 245h2v1h-2zM1068 244h2v1h-2zM1070 243h2v1h-2zM1072 242h2v1h-2zM1074 241h1v1h-1zM1075 240h2v1h-2zM1077 239h2v1h-2zM1079 238h1v1h-1zM1080 237h2v1h-2zM1082 236h2v1h-2zM1084 235h2v1h-2zM1086 234h2v1h-2zM1088 233h2v1h-2zM1090 232h2v1h-2zM1092 231h2v1h-2zM1094 230h2v1h-2zM1096 229h2v1h-2zM1098 228h2v1h-2zM1100 227h2v1h-2zM1102 226h2v1h-2zM1104 225h2v1h-2zM1106 224h2v1h-2zM1108 223h2v1h-2zM1110 222h2v1h-2zM1112 221h2v1h-2zM1114 220h2v1h-2zM1116 219h2v1h-2zM1118 218h2v1h-2zM1120 217h2v1h-2zM1122 216h2v1h-2zM1124 215h2v1h-2zM1126 214h3v1h-3zM1129 213h2v1h-2zM1131 212h2v1h-2zM1133 211h2v1h-2zM1135 210h2v1h-2zM1137 209h3v1h-3zM1140 208h2v1h-2zM1142 207h2v1h-2zM1144 206h2v1h-2zM1146 205h3v1h-3zM1149 204h2v1h-2zM1151 203h3v1h-3zM1154 202h4v1h-4zM1158 201h4v1h-4zM1162 200h4v1h-4zM1166 199h4v1h-4zM1170 198h4v1h-4zM1174 197h4v1h-4z" fill="#ff00ff" shape-rendering="crispEdges"/>
<path d="M9 470h3v1h-3zM12 469h3v1h-3zM15 468h4v1h-4zM19 467h3v1h-3zM22 466h4v1h-4zM26 465h3v1h-3zM29 464h3v1h-3zM32 463h3v1h-3zM35 462h3v1h-3zM38 461h3v1h-3zM41 460h3v1h-3zM44 459h3v1h-3zM47 458h2v1h-2zM49 457h3v1h-3zM52 456h2v1h-2zM54 455h3v1h-3zM57 454h2v1h-2zM59 453h3v1h-3zM62 452h2v1h-2zM64 451h2v1h-2zM66 450h3v1h-3zM69 449h2v1h-2zM71 448h3v1h-3zM74 447h2v1h-2zM76 446h2v1h-2zM78 445h3v1h-3zM81 444h2v1h-2zM83 443h3v1h-3zM86 442h3v1h-3zM89 441h2v1h-2zM91 440h3v1h-3zM94 439h2v1h-2zM96 438h3v1h-3zM99 437h3v1h-3zM102 436h2v1h-2zM104 435h3v1h-3zM107 434h3v1h-3zM110 433h3v1h-3zM113 432h2v1h-2zM115 431h3v1h-3zM118 430h3v1h-3zM121 429h3v1h-3zM124 428h3v1h-3zM127 427h3v1h-3zM130 426h3v1h-3zM133 425h3v1h-3zM136 424h4v1h-4zM140 423h4v1h-4zM144 422h4v1h-4zM148 421h4v1h-4zM152 420h4v1h-4zM156 419h4v1h-4zM160 418h3v1h-3zM163 417h4v1h-4zM167 416h3v1h-3zM170 415h4v1h-4zM174 414h4v1h-4zM178 413h3v1h-3zM181 412h4v1h-4zM185 411h3v1h-3zM188 410h3v1h-3zM191 409h2v1h-2zM193 408h3v1h-3zM196 407h3v1h-3zM199 406h3v1h-3zM202 405h3v1h-3zM205 404h3v1h-3zM208 403h2v1h-2zM210 402h3v1h-3zM213 401h3v1h-3zM216 400h4v1h-4zM220 399h4v1h-4zM224 398h4v1h-4zM228 397h4v1h-4zM232 396h3v1h-3zM235 395h4v1h-4zM239 394h3v1h-3zM242 393h4v1h-4zM246 392h3v1h-3zM249 391h3v1h-3zM252 390h4v1h-4zM256 389h3v1h-3zM259 388h4v1h-4zM263 387h3v1h-3zM266 386h4v1h-4zM270 385h3v1h-3zM273 384h3v1h-3zM276 383h3v1h-3zM279 382h3v1h-3zM282 381h2v1h-2zM284 380h3v1h-3zM287 379h3v1h-3zM290 378h2v1h-2zM292 377h3v1h-3zM295 376h3v1h-3zM298 375h2v1h-2zM300 374h3v1h-3zM303 373h3v1h-3zM306 372h2v1h-2zM308 371h3v1h-3zM311 370h3v1h-3zM314 369h3v1h-3zM317 368h2v1h-2zM319 367h3v1h-3zM322 366h3v1h-3zM325 365h3v1h-3zM328 364h2v1h-2zM330 363h3v1h-3zM333 362h3v1h-3zM336 361h3v1h-3zM339 360h2v1h-2zM341 359h3v1h-3zM344 358h3v1h-3zM347 357h3v1h-3zM350 356h3v1h-3zM353 355h3v1h-3zM356 354h3v1h-3zM359 353h3v1h-3zM362 352h3v1h-3zM365 351h3v1h-3zM368 350h3v1h-3zM371 349h3v1h-3zM374 348h3v1h-3zM377 347h3v1h-3zM380 346h4v1h-4zM384 345h3v1h-3zM387 344h3v1h-3zM390 343h3v1h-3zM393 342h3v1h-3zM396 341h3v1h-3zM399 340h3v1h-3zM402 339h3v1h-3zM405 338h4v1h-4zM409 337h3v1h-3zM412 336h4v1h-4zM416 335h3v1h-3zM419 334h4v1h-4zM423 333h3v1h-3zM426 332h3v1h-3zM429 331h4v1h-4zM433 330h4v1h-4zM437 329h5v1h-5zM442 328h4v1h-4zM446 327h4v1h-4zM450 326h5v1h-5zM455 325h4v1h-4zM459 324h4v1h-4zM463 323h5v1h-5zM468 322h4v1h-4zM472 321h4v1h-4zM476 320h5v1h-5zM481 319h5v1h-5zM486 318h5v1h-5zM491 317h4v1h-4zM495 316h6v1h-6zM501 315h5v1h-5zM506 314h5v1h-5zM511 313h5v1h-5zM516 312h5v1h-5zM521 311h4v1h-4zM525 310h4v1h-4zM529 309h4v1h-4zM533 308h4v1h-4zM537 307h4v1h-4zM541 306h4v1h-4zM545 305h5v1h-5zM550 304h4v1h-4zM554 303h4v1h-4zM558 302h5v1h-5zM563 301h5v1h-5zM568 300h5v1h-5zM573 299h6v1h-6zM579 298h6v1h-6zM585 297h7v1h-7zM592 296h7v1h-7zM599 295h7v1h-7zM606 294h6v1h-6zM612 293h6v1h-6zM618 292h6v1h-6zM624 291h6v1h-6zM630 290h7v1h-7zM637 289h6v1h-6zM643 288h5v1h-5zM648 287h5v1h-5zM653 286h5v1h-5zM658 285h5v1h-5zM663 284h5v1h-5zM668 283h5v1h-5zM673 282h5v1h-5zM678 281h5v1h-5zM683 280h8v1h-8zM691 279h7v1h-7zM698 278h9v1h-9zM707 277h8v1h-8zM715 276h12v1h-12zM727 275h15v1h-15zM742 274h15v1h-15zM757 273h11v1h-11zM768 272h13v1h-13zM781 271h16v1h-16zM797 270h17v1h-17zM814 269h11v1h-11zM825 268h12v1h-12zM837 267h14v1h-14zM851 266h9v1h-9zM860 265h8v1h-8zM868 264h7v1h-7zM875 263h8v1h-8zM883 262h9v1h-9zM892 261h8v1h-8zM900 260h7v1h-7zM907 259h8v1h-8zM915 258h7v1h-7zM922 257h7v1h-7zM929 256h7v1h-7zM936 255h7v1h-7zM943 254h7v1h-7zM950 253h8v1h-8zM958 252h7v1h-7zM965 251h8v1h-8zM973 250h8v1h-8zM981 249h8v1h-8zM989 248h9v1h-9zM998 247h8v1h-8zM1006 246h7v1h-7zM1013 245h6v1h-6zM1019 244h4v1h-4zM1023 243h5v1h-5zM1028 242h5v1h-5zM1033 241h6v1h-6zM1039 240h5v1h-5zM1044 239h6v1h-6zM1050 238h5v1h-5zM1055 237h5v1h-5zM1060 236h6v1h-6zM1066 235h5v1h-5zM1071 234h5v1h-5zM1076 233h6v1h-6zM1082 232h6v1h-6zM1088 231h5v1h-5zM1093 230h6v1h-6zM1099 229h7v1h-7zM1106 228h9v1h-9zM1115 227h8v1h-8zM1123 226h10v1h-10zM1133 225h10v1h-10zM1143 224h11v1h-11zM1154 223h11v1h-11zM1165 222h13v1h-13z" fill="#ff0000" shape-rendering="crispEdges"/>
<g shape-rendering="crispEdges">
<rect x="9" y="22" width="1188" height="2" fill="#ff0000"/>
<rect x="9" y="123" width="1188" height="2" fill="#ff0000"/>
<rect x="9" y="244" width="1188" height="2" fill="#00d200"/>
<rect x="9" y="365" width="1188" height="2" fill="#4158e6"/>
<rect x="9" y="466" width="1188" height="2" fill="#4158e6"/>
<rect x="9" y="121" width="5" height="6" fill="#ff0000"/>
<rect x="10" y="123" width="2" height="2" fill="#fff"/>
<rect x="1190" y="121" width="6" height="6" fill="#ff0000"/>
<rect x="1192" y="123" width="2" height="2" fill="#fff"/>
<rect x="1197" y="14" width="2" height="1" fill="#000"/>
<rect x="1197" y="47" width="2" height="1" fill="#000"/>
<rect x="1197" y="80" width="2" height="1" fill="#000"/>
<rect x="1197" y="113" width="2" height="1" fill="#000"/>
<rect x="1197" y="146" width="2" height="1" fill="#000"/>
<rect x="1197" y="179" width="2" height="1" fill="#000"/>
<rect x="1197" y="212" width="2" height="1" fill="#000"/>
<rect x="1197" y="245" width="2" height="1" fill="#000"/>
<rect x="1197" y="278" width="2" height="1" fill="#000"/>
<rect x="1197" y="311" width="2" height="1" fill="#000"/>
<rect x="1197" y="344" width="2" height="1" fill="#000"/>
<rect x="1197" y="377" width="2" height="1" fill="#000"/>
<rect x="1197" y="410" width="2" height="1" fill="#000"/>
<rect x="1197" y="443" width="2" height="1" fill="#000"/>
<rect x="1197" y="476" width="2" height="1" fill="#000"/>
</g>
<text x="1201.4" y="18" fill="#000" stroke="#000" stroke-width="0.3" font-size="10.1" textLength="33" lengthAdjust="spacingAndGlyphs" >2002.40</text>
<text x="1201.4" y="51" fill="#000" stroke="#000" stroke-width="0.3" font-size="10.1" textLength="33" lengthAdjust="spacingAndGlyphs" >1994.20</text>
<text x="1201.4" y="84" fill="#000" stroke="#000" stroke-width="0.3" font-size="10.1" textLength="33" lengthAdjust="spacingAndGlyphs" >1986.00</text>
<text x="1201.4" y="117" fill="#000" stroke="#000" stroke-width="0.3" font-size="10.1" textLength="33" lengthAdjust="spacingAndGlyphs" >1977.80</text>
<text x="1201.4" y="150" fill="#000" stroke="#000" stroke-width="0.3" font-size="10.1" textLength="33" lengthAdjust="spacingAndGlyphs" >1969.60</text>
<text x="1201.4" y="183" fill="#000" stroke="#000" stroke-width="0.3" font-size="10.1" textLength="33" lengthAdjust="spacingAndGlyphs" >1961.40</text>
<text x="1201.4" y="216" fill="#000" stroke="#000" stroke-width="0.3" font-size="10.1" textLength="33" lengthAdjust="spacingAndGlyphs" >1953.20</text>
<text x="1201.4" y="249" fill="#000" stroke="#000" stroke-width="0.3" font-size="10.1" textLength="33" lengthAdjust="spacingAndGlyphs" >1945.00</text>
<text x="1201.4" y="282" fill="#000" stroke="#000" stroke-width="0.3" font-size="10.1" textLength="33" lengthAdjust="spacingAndGlyphs" >1936.80</text>
<text x="1201.4" y="315" fill="#000" stroke="#000" stroke-width="0.3" font-size="10.1" textLength="33" lengthAdjust="spacingAndGlyphs" >1928.60</text>
<text x="1201.4" y="348" fill="#000" stroke="#000" stroke-width="0.3" font-size="10.1" textLength="33" lengthAdjust="spacingAndGlyphs" >1920.60</text>
<text x="1201.4" y="381" fill="#000" stroke="#000" stroke-width="0.3" font-size="10.1" textLength="33" lengthAdjust="spacingAndGlyphs" >1912.40</text>
<text x="1201.4" y="414" fill="#000" stroke="#000" stroke-width="0.3" font-size="10.1" textLength="33" lengthAdjust="spacingAndGlyphs" >1904.20</text>
<text x="1201.4" y="447" fill="#000" stroke="#000" stroke-width="0.3" font-size="10.1" textLength="33" lengthAdjust="spacingAndGlyphs" >1896.00</text>
<text x="1201.4" y="480" fill="#000" stroke="#000" stroke-width="0.3" font-size="10.1" textLength="33" lengthAdjust="spacingAndGlyphs" >1887.80</text>
<rect x="1199" y="17" width="39" height="11" fill="#ff0000"/>
<text x="1201.4" y="26" fill="#fff" stroke="#fff" stroke-width="0.15" font-size="10.1" textLength="33" lengthAdjust="spacingAndGlyphs" >2000.00</text>
<rect x="1199" y="118" width="39" height="11" fill="#ff0000"/>
<text x="1201.4" y="127" fill="#fff" stroke="#fff" stroke-width="0.15" font-size="10.1" textLength="33" lengthAdjust="spacingAndGlyphs" >1975.00</text>
<rect x="1199" y="219" width="39" height="11" fill="#000000"/>
<text x="1201.4" y="228" fill="#fff" stroke="#fff" stroke-width="0.15" font-size="10.1" textLength="33" lengthAdjust="spacingAndGlyphs" >1950.33</text>
<rect x="1199" y="239" width="39" height="11" fill="#00d200"/>
<text x="1201.4" y="248" fill="#fff" stroke="#fff" stroke-width="0.15" font-size="10.1" textLength="33" lengthAdjust="spacingAndGlyphs" >1945.00</text>
<rect x="1199" y="360" width="39" height="11" fill="#4158e6"/>
<text x="1201.4" y="369" fill="#fff" stroke="#fff" stroke-width="0.15" font-size="10.1" textLength="33" lengthAdjust="spacingAndGlyphs" >1915.00</text>
<rect x="1199" y="461" width="39" height="11" fill="#4158e6"/>
<text x="1201.4" y="470" fill="#fff" stroke="#fff" stroke-width="0.15" font-size="10.1" textLength="33" lengthAdjust="spacingAndGlyphs" >1890.00</text>
<polygon points="12,14 19,14 15.5,18" fill="#000"/>
<text x="23.5" y="19" fill="#000" stroke="#000" stroke-width="0.3" font-size="10.1" textLength="58" lengthAdjust="spacingAndGlyphs" >XAUUSD-,H4</text>
<text x="87" y="19" fill="#000" stroke="#000" stroke-width="0.3" font-size="10.1" textLength="33" lengthAdjust="spacingAndGlyphs" >1949.68</text>
<text x="123" y="19" fill="#000" stroke="#000" stroke-width="0.3" font-size="10.1" textLength="33" lengthAdjust="spacingAndGlyphs" >1950.88</text>
<text x="159" y="19" fill="#000" stroke="#000" stroke-width="0.3" font-size="10.1" textLength="33" lengthAdjust="spacingAndGlyphs" >1948.80</text>
<text x="195" y="19" fill="#000" stroke="#000" stroke-width="0.3" font-size="10.1" textLength="33" lengthAdjust="spacingAndGlyphs" >1950.33</text>
<text x="439" y="82.5" fill="#ff0000" font-size="35.2" font-weight="300" stroke="#ff0000" stroke-width="0.75" style="font-family:'Liberation Sans','Noto Sans CJK SC',sans-serif">多空转折点</text>
<text x="612.3" y="82.5" fill="#ff0000" font-size="35.5" textLength="75.5" lengthAdjust="spacingAndGlyphs" stroke="#fff" stroke-width="0.12" style="font-family:'Liberation Sans',sans-serif">1975</text>
<g shape-rendering="crispEdges">
<rect x="9" y="526" width="1" height="61" fill="#c0c0c0"/>
<rect x="17" y="526" width="1" height="63" fill="#c0c0c0"/>
<rect x="25" y="526" width="1" height="64" fill="#c0c0c0"/>
<rect x="33" y="526" width="1" height="62" fill="#c0c0c0"/>
<rect x="41" y="526" width="1" height="63" fill="#c0c0c0"/>
<rect x="49" y="526" width="1" height="60" fill="#c0c0c0"/>
<rect x="57" y="526" width="1" height="55" fill="#c0c0c0"/>
<rect x="65" y="526" width="1" height="49" fill="#c0c0c0"/>
<rect x="73" y="526" width="1" height="44" fill="#c0c0c0"/>
<rect x="81" y="526" width="1" height="37" fill="#c0c0c0"/>
<rect x="89" y="526" width="1" height="30" fill="#c0c0c0"/>
<rect x="97" y="526" width="1" height="28" fill="#c0c0c0"/>
<rect x="105" y="526" width="1" height="23" fill="#c0c0c0"/>
<rect x="113" y="526" width="1" height="22" fill="#c0c0c0"/>
<rect x="121" y="526" width="1" height="21" fill="#c0c0c0"/>
<rect x="129" y="526" width="1" height="18" fill="#c0c0c0"/>
<rect x="137" y="526" width="1" height="18" fill="#c0c0c0"/>
<rect x="145" y="526" width="1" height="20" fill="#c0c0c0"/>
<rect x="153" y="526" width="1" height="23" fill="#c0c0c0"/>
<rect x="161" y="526" width="1" height="22" fill="#c0c0c0"/>
<rect x="169" y="526" width="1" height="21" fill="#c0c0c0"/>
<rect x="177" y="526" width="1" height="21" fill="#c0c0c0"/>
<rect x="185" y="526" width="1" height="18" fill="#c0c0c0"/>
<rect x="193" y="526" width="1" height="16" fill="#c0c0c0"/>
<rect x="201" y="526" width="1" height="14" fill="#c0c0c0"/>
<rect x="209" y="526" width="1" height="11" fill="#c0c0c0"/>
<rect x="217" y="526" width="1" height="10" fill="#c0c0c0"/>
<rect x="225" y="526" width="1" height="11" fill="#c0c0c0"/>
<rect x="233" y="526" width="1" height="14" fill="#c0c0c0"/>
<rect x="241" y="526" width="1" height="15" fill="#c0c0c0"/>
<rect x="249" y="526" width="1" height="16" fill="#c0c0c0"/>
<rect x="257" y="526" width="1" height="17" fill="#c0c0c0"/>
<rect x="265" y="526" width="1" height="17" fill="#c0c0c0"/>
<rect x="273" y="526" width="1" height="15" fill="#c0c0c0"/>
<rect x="281" y="526" width="1" height="12" fill="#c0c0c0"/>
<rect x="289" y="526" width="1" height="6" fill="#c0c0c0"/>
<rect x="297" y="526" width="1" height="1" fill="#c0c0c0"/>
<rect x="305" y="526" width="1" height="1" fill="#c0c0c0"/>
<rect x="313" y="523" width="1" height="4" fill="#c0c0c0"/>
<rect x="321" y="518" width="1" height="9" fill="#c0c0c0"/>
<rect x="329" y="512" width="1" height="15" fill="#c0c0c0"/>
<rect x="337" y="507" width="1" height="20" fill="#c0c0c0"/>
<rect x="345" y="505" width="1" height="22" fill="#c0c0c0"/>
<rect x="353" y="503" width="1" height="24" fill="#c0c0c0"/>
<rect x="361" y="503" width="1" height="24" fill="#c0c0c0"/>
<rect x="369" y="504" width="1" height="23" fill="#c0c0c0"/>
<rect x="377" y="504" width="1" height="23" fill="#c0c0c0"/>
<rect x="385" y="505" width="1" height="22" fill="#c0c0c0"/>
<rect x="393" y="505" width="1" height="22" fill="#c0c0c0"/>
<rect x="401" y="509" width="1" height="18" fill="#c0c0c0"/>
<rect x="409" y="516" width="1" height="11" fill="#c0c0c0"/>
<rect x="417" y="521" width="1" height="6" fill="#c0c0c0"/>
<rect x="425" y="524" width="1" height="3" fill="#c0c0c0"/>
<rect x="433" y="526" width="1" height="4" fill="#c0c0c0"/>
<rect x="441" y="526" width="1" height="8" fill="#c0c0c0"/>
<rect x="449" y="526" width="1" height="12" fill="#c0c0c0"/>
<rect x="457" y="526" width="1" height="15" fill="#c0c0c0"/>
<rect x="465" y="526" width="1" height="21" fill="#c0c0c0"/>
<rect x="473" y="526" width="1" height="23" fill="#c0c0c0"/>
<rect x="481" y="526" width="1" height="23" fill="#c0c0c0"/>
<rect x="489" y="526" width="1" height="25" fill="#c0c0c0"/>
<rect x="497" y="526" width="1" height="23" fill="#c0c0c0"/>
<rect x="505" y="526" width="1" height="21" fill="#c0c0c0"/>
<rect x="513" y="526" width="1" height="21" fill="#c0c0c0"/>
<rect x="521" y="526" width="1" height="16" fill="#c0c0c0"/>
<rect x="529" y="526" width="1" height="12" fill="#c0c0c0"/>
<rect x="537" y="526" width="1" height="8" fill="#c0c0c0"/>
<rect x="545" y="526" width="1" height="8" fill="#c0c0c0"/>
<rect x="553" y="526" width="1" height="8" fill="#c0c0c0"/>
<rect x="561" y="526" width="1" height="7" fill="#c0c0c0"/>
<rect x="569" y="526" width="1" height="2" fill="#c0c0c0"/>
<rect x="585" y="526" width="1" height="1" fill="#c0c0c0"/>
<rect x="593" y="524" width="1" height="3" fill="#c0c0c0"/>
<rect x="601" y="525" width="1" height="2" fill="#c0c0c0"/>
<rect x="617" y="526" width="1" height="1" fill="#c0c0c0"/>
<rect x="625" y="526" width="1" height="2" fill="#c0c0c0"/>
<rect x="633" y="526" width="1" height="4" fill="#c0c0c0"/>
<rect x="641" y="526" width="1" height="7" fill="#c0c0c0"/>
<rect x="649" y="526" width="1" height="6" fill="#c0c0c0"/>
<rect x="657" y="526" width="1" height="4" fill="#c0c0c0"/>
<rect x="665" y="526" width="1" height="3" fill="#c0c0c0"/>
<rect x="673" y="526" width="1" height="2" fill="#c0c0c0"/>
<rect x="681" y="526" width="1" height="2" fill="#c0c0c0"/>
<rect x="689" y="526" width="1" height="2" fill="#c0c0c0"/>
<rect x="697" y="526" width="1" height="2" fill="#c0c0c0"/>
<rect x="705" y="526" width="1" height="3" fill="#c0c0c0"/>
<rect x="713" y="526" width="1" height="4" fill="#c0c0c0"/>
<rect x="721" y="526" width="1" height="6" fill="#c0c0c0"/>
<rect x="729" y="526" width="1" height="8" fill="#c0c0c0"/>
<rect x="737" y="526" width="1" height="8" fill="#c0c0c0"/>
<rect x="745" y="526" width="1" height="8" fill="#c0c0c0"/>
<rect x="753" y="526" width="1" height="8" fill="#c0c0c0"/>
<rect x="761" y="526" width="1" height="7" fill="#c0c0c0"/>
<rect x="769" y="526" width="1" height="6" fill="#c0c0c0"/>
<rect x="777" y="526" width="1" height="6" fill="#c0c0c0"/>
<rect x="785" y="526" width="1" height="6" fill="#c0c0c0"/>
<rect x="793" y="526" width="1" height="6" fill="#c0c0c0"/>
<rect x="801" y="526" width="1" height="3" fill="#c0c0c0"/>
<rect x="809" y="526" width="1" height="1" fill="#c0c0c0"/>
<rect x="817" y="526" width="1" height="1" fill="#c0c0c0"/>
<rect x="825" y="525" width="1" height="2" fill="#c0c0c0"/>
<rect x="833" y="524" width="1" height="3" fill="#c0c0c0"/>
<rect x="841" y="524" width="1" height="3" fill="#c0c0c0"/>
<rect x="849" y="523" width="1" height="4" fill="#c0c0c0"/>
<rect x="857" y="520" width="1" height="7" fill="#c0c0c0"/>
<rect x="865" y="517" width="1" height="10" fill="#c0c0c0"/>
<rect x="873" y="515" width="1" height="12" fill="#c0c0c0"/>
<rect x="881" y="514" width="1" height="13" fill="#c0c0c0"/>
<rect x="889" y="512" width="1" height="15" fill="#c0c0c0"/>
<rect x="897" y="507" width="1" height="20" fill="#c0c0c0"/>
<rect x="905" y="506" width="1" height="21" fill="#c0c0c0"/>
<rect x="913" y="504" width="1" height="23" fill="#c0c0c0"/>
<rect x="921" y="504" width="1" height="23" fill="#c0c0c0"/>
<rect x="929" y="502" width="1" height="25" fill="#c0c0c0"/>
<rect x="937" y="502" width="1" height="25" fill="#c0c0c0"/>
<rect x="945" y="502" width="1" height="25" fill="#c0c0c0"/>
<rect x="953" y="498" width="1" height="29" fill="#c0c0c0"/>
<rect x="961" y="496" width="1" height="31" fill="#c0c0c0"/>
<rect x="969" y="495" width="1" height="32" fill="#c0c0c0"/>
<rect x="977" y="494" width="1" height="33" fill="#c0c0c0"/>
<rect x="985" y="493" width="1" height="34" fill="#c0c0c0"/>
<rect x="993" y="491" width="1" height="36" fill="#c0c0c0"/>
<rect x="1001" y="489" width="1" height="38" fill="#c0c0c0"/>
<rect x="1009" y="489" width="1" height="38" fill="#c0c0c0"/>
<rect x="1017" y="489" width="1" height="38" fill="#c0c0c0"/>
<rect x="1025" y="491" width="1" height="36" fill="#c0c0c0"/>
<rect x="1033" y="492" width="1" height="35" fill="#c0c0c0"/>
<rect x="1041" y="493" width="1" height="34" fill="#c0c0c0"/>
<rect x="1049" y="497" width="1" height="30" fill="#c0c0c0"/>
<rect x="1057" y="499" width="1" height="28" fill="#c0c0c0"/>
<rect x="1065" y="500" width="1" height="27" fill="#c0c0c0"/>
<rect x="1073" y="498" width="1" height="29" fill="#c0c0c0"/>
<rect x="1081" y="497" width="1" height="30" fill="#c0c0c0"/>
<rect x="1089" y="496" width="1" height="31" fill="#c0c0c0"/>
<rect x="1097" y="494" width="1" height="33" fill="#c0c0c0"/>
<rect x="1105" y="494" width="1" height="33" fill="#c0c0c0"/>
<rect x="1113" y="496" width="1" height="31" fill="#c0c0c0"/>
<rect x="1121" y="500" width="1" height="27" fill="#c0c0c0"/>
<rect x="1129" y="503" width="1" height="24" fill="#c0c0c0"/>
<rect x="1137" y="505" width="1" height="22" fill="#c0c0c0"/>
<rect x="1145" y="507" width="1" height="20" fill="#c0c0c0"/>
<rect x="1153" y="515" width="1" height="12" fill="#c0c0c0"/>
<rect x="1161" y="523" width="1" height="4" fill="#c0c0c0"/>
<rect x="1169" y="526" width="1" height="1" fill="#c0c0c0"/>
<rect x="1177" y="526" width="1" height="7" fill="#c0c0c0"/>
<rect x="1197" y="482" width="2" height="1" fill="#000"/>
<rect x="1197" y="526" width="2" height="1" fill="#000"/>
<rect x="1197" y="595" width="2" height="1" fill="#000"/>
</g>
<path d="M9 567h2v1h-2zM11 568h1v1h-1zM15 570h1v1h-1zM16 571h1v1h-1zM17 572h2v1h-2zM19 573h1v1h-1zM23 575h1v1h-1zM24 576h1v1h-1zM25 577h2v1h-2zM27 578h1v1h-1zM31 579h1v1h-1zM32 580h2v1h-2zM34 581h2v1h-2zM39 582h1v1h-1zM40 583h3v1h-3zM43 584h1v1h-1zM47 585h5v1h-5zM55 586h5v1h-5zM63 586h5v1h-5zM71 585h1v1h-1zM72 584h3v1h-3zM75 583h1v1h-1zM79 582h1v1h-1zM80 581h3v1h-3zM83 580h1v1h-1zM87 579h1v1h-1zM88 578h2v1h-2zM90 577h2v1h-2zM95 575h1v1h-1zM96 574h2v1h-2zM98 573h2v1h-2zM103 571h1v1h-1zM104 570h2v1h-2zM106 569h2v1h-2zM111 566h2v1h-2zM113 565h2v1h-2zM115 564h1v1h-1zM119 562h1v1h-1zM120 561h2v1h-2zM122 560h2v1h-2zM127 558h1v1h-1zM128 557h2v1h-2zM130 556h2v1h-2zM135 554h2v1h-2zM137 553h2v1h-2zM139 552h1v1h-1zM143 551h2v1h-2zM145 550h3v1h-3zM151 549h5v1h-5zM159 548h5v1h-5zM167 547h5v1h-5zM175 547h5v1h-5zM183 547h1v1h-1zM184 546h4v1h-4zM191 546h5v1h-5zM199 545h5v1h-5zM207 545h5v1h-5zM215 544h5v1h-5zM223 543h5v1h-5zM231 542h5v1h-5zM239 541h5v1h-5zM247 541h2v1h-2zM249 540h3v1h-3zM255 540h5v1h-5zM263 540h5v1h-5zM271 540h5v1h-5zM279 540h5v1h-5zM287 540h4v1h-4zM291 539h1v1h-1zM295 538h5v1h-5zM303 537h4v1h-4zM307 536h1v1h-1zM311 535h4v1h-4zM315 534h1v1h-1zM319 533h1v1h-1zM320 532h3v1h-3zM323 531h1v1h-1zM327 529h2v1h-2zM329 528h3v1h-3zM335 526h1v1h-1zM336 525h2v1h-2zM338 524h2v1h-2zM343 521h2v1h-2zM345 520h2v1h-2zM347 519h1v1h-1zM351 517h2v1h-2zM353 516h3v1h-3zM359 514h2v1h-2zM361 513h3v1h-3zM367 511h2v1h-2zM369 510h2v1h-2zM371 509h1v1h-1zM375 508h4v1h-4zM379 507h1v1h-1zM383 506h4v1h-4zM387 505h1v1h-1zM391 505h1v1h-1zM392 504h4v1h-4zM399 504h5v1h-5zM407 505h5v1h-5zM415 506h3v1h-3zM418 507h2v1h-2zM423 508h1v1h-1zM424 509h3v1h-3zM427 510h1v1h-1zM431 511h2v1h-2zM433 512h2v1h-2zM435 513h1v1h-1zM439 514h1v1h-1zM440 515h2v1h-2zM442 516h2v1h-2zM447 518h1v1h-1zM448 519h2v1h-2zM450 520h2v1h-2zM455 522h1v1h-1zM456 523h2v1h-2zM458 524h2v1h-2zM463 527h2v1h-2zM465 528h1v1h-1zM466 529h2v1h-2zM471 531h1v1h-1zM472 532h1v1h-1zM473 533h2v1h-2zM475 534h1v1h-1zM479 536h2v1h-2zM481 537h3v1h-3zM487 539h2v1h-2zM489 540h3v1h-3zM495 542h2v1h-2zM497 543h3v1h-3zM503 544h1v1h-1zM504 545h4v1h-4zM511 546h1v1h-1zM512 547h4v1h-4zM519 547h5v1h-5zM527 547h4v1h-4zM531 546h1v1h-1zM535 545h5v1h-5zM543 544h4v1h-4zM547 543h1v1h-1zM551 542h4v1h-4zM555 541h1v1h-1zM559 540h4v1h-4zM563 539h1v1h-1zM567 538h3v1h-3zM570 537h2v1h-2zM575 536h1v1h-1zM576 535h3v1h-3zM579 534h1v1h-1zM583 533h4v1h-4zM587 532h1v1h-1zM591 531h5v1h-5zM599 530h1v1h-1zM600 529h4v1h-4zM607 528h5v1h-5zM615 527h5v1h-5zM623 527h5v1h-5zM631 527h5v1h-5zM639 527h5v1h-5zM647 528h5v1h-5zM655 529h5v1h-5zM663 529h5v1h-5zM671 530h5v1h-5zM679 530h5v1h-5zM687 530h5v1h-5zM695 530h5v1h-5zM703 530h5v1h-5zM711 529h5v1h-5zM719 529h5v1h-5zM727 530h5v1h-5zM735 530h5v1h-5zM743 531h5v1h-5zM751 531h5v1h-5zM759 532h5v1h-5zM767 532h5v1h-5zM775 533h5v1h-5zM783 533h5v1h-5zM791 533h5v1h-5zM799 532h5v1h-5zM807 532h5v1h-5zM815 531h5v1h-5zM823 530h5v1h-5zM831 529h5v1h-5zM839 528h5v1h-5zM847 527h1v1h-1zM848 526h4v1h-4zM855 525h5v1h-5zM863 524h1v1h-1zM864 523h4v1h-4zM871 521h5v1h-5zM879 520h5v1h-5zM887 519h1v1h-1zM888 518h4v1h-4zM895 516h4v1h-4zM899 515h1v1h-1zM903 514h4v1h-4zM907 513h1v1h-1zM911 512h4v1h-4zM915 511h1v1h-1zM919 511h1v1h-1zM920 510h4v1h-4zM927 509h1v1h-1zM928 508h4v1h-4zM935 507h1v1h-1zM936 506h4v1h-4zM943 505h4v1h-4zM947 504h1v1h-1zM951 504h1v1h-1zM952 503h4v1h-4zM959 502h1v1h-1zM960 501h4v1h-4zM967 500h5v1h-5zM975 499h5v1h-5zM983 498h4v1h-4zM987 497h1v1h-1zM991 497h1v1h-1zM992 496h4v1h-4zM999 495h4v1h-4zM1003 494h1v1h-1zM1007 493h5v1h-5zM1015 492h4v1h-4zM1019 491h1v1h-1zM1023 491h5v1h-5zM1031 490h5v1h-5zM1039 490h5v1h-5zM1047 490h5v1h-5zM1055 490h1v1h-1zM1056 491h4v1h-4zM1063 491h2v1h-2zM1065 492h3v1h-3zM1071 492h2v1h-2zM1073 493h3v1h-3zM1079 494h5v1h-5zM1087 495h5v1h-5zM1095 495h5v1h-5zM1103 495h5v1h-5zM1111 496h5v1h-5zM1119 496h5v1h-5zM1127 496h2v1h-2zM1129 497h3v1h-3zM1135 497h5v1h-5zM1143 497h3v1h-3zM1146 498h2v1h-2zM1151 499h2v1h-2zM1153 500h3v1h-3zM1159 502h2v1h-2zM1161 503h3v1h-3zM1167 505h1v1h-1zM1168 506h2v1h-2zM1170 507h2v1h-2zM1175 510h2v1h-2z" fill="#ff0000" shape-rendering="crispEdges"/>
<text x="12.4" y="494" fill="#000" stroke="#000" stroke-width="0.3" font-size="10.1" textLength="121.5" lengthAdjust="spacingAndGlyphs" >MACD(12,26,9) -2.098 4.191</text>
<text x="1200" y="492" fill="#000" stroke="#000" stroke-width="0.3" font-size="10.1" textLength="28" lengthAdjust="spacingAndGlyphs" >12.647</text>
<text x="1199.3" y="530" fill="#000" stroke="#000" stroke-width="0.3" font-size="10.1" textLength="18" lengthAdjust="spacingAndGlyphs" >0.00</text>
<text x="1199.5" y="593" fill="#000" stroke="#000" stroke-width="0.3" font-size="10.1" textLength="31" lengthAdjust="spacingAndGlyphs" >-20.262</text>
<g shape-rendering="crispEdges">
<line x1="10" y1="621.5" x2="1196" y2="621.5" stroke="#c0c0c0" stroke-width="1" stroke-dasharray="3 3"/>
<line x1="10" y1="651.5" x2="1196" y2="651.5" stroke="#c0c0c0" stroke-width="1" stroke-dasharray="3 3"/>
<rect x="1197" y="599" width="2" height="1" fill="#000"/>
<rect x="1197" y="621" width="2" height="1" fill="#000"/>
<rect x="1197" y="651" width="2" height="1" fill="#000"/>
<rect x="1197" y="672" width="2" height="1" fill="#000"/>
</g>
<path d="M8 654h19v1h-19zM27 653h1v1h-1zM28 652h2v1h-2zM30 651h1v1h-1zM31 650h1v1h-1zM32 649h3v1h-3zM35 650h3v1h-3zM38 651h3v1h-3zM41 652h1v1h-1zM42 651h1v1h-1zM43 650h1v1h-1zM44 649h1v1h-1zM45 648h1v1h-1zM46 647h1v1h-1zM47 646h1v1h-1zM48 645h1v1h-1zM49 644h9v1h-9zM58 643h2v1h-2zM60 642h2v1h-2zM62 641h2v1h-2zM64 640h10v1h-10zM74 639h2v1h-2zM76 638h2v1h-2zM78 637h2v1h-2zM80 636h2v1h-2zM82 635h9v1h-9zM91 636h2v1h-2zM93 637h2v1h-2zM95 638h2v1h-2zM97 639h3v1h-3zM100 638h2v1h-2zM102 637h2v1h-2zM104 636h3v1h-3zM107 637h2v1h-2zM109 638h3v1h-3zM112 639h5v1h-5zM117 640h6v1h-6zM123 639h2v1h-2zM125 638h3v1h-3zM128 637h4v1h-4zM132 638h2v1h-2zM134 639h2v1h-2zM136 640h3v1h-3zM139 641h2v1h-2zM141 642h3v1h-3zM144 643h3v1h-3zM147 644h4v1h-4zM151 645h4v1h-4zM155 644h2v1h-2zM157 643h2v1h-2zM159 642h2v1h-2zM161 641h17v1h-17zM178 640h2v1h-2zM180 639h2v1h-2zM182 638h2v1h-2zM184 637h4v1h-4zM188 636h29v1h-29zM217 637h4v1h-4zM221 638h2v1h-2zM223 639h2v1h-2zM225 640h2v1h-2zM227 641h2v1h-2zM229 642h2v1h-2zM231 643h1v1h-1zM232 644h2v1h-2zM234 645h2v1h-2zM236 644h2v1h-2zM238 643h3v1h-3zM241 642h6v1h-6zM247 643h5v1h-5zM252 642h15v1h-15zM267 641h1v1h-1zM268 640h1v1h-1zM269 639h1v1h-1zM270 638h2v1h-2zM272 637h1v1h-1zM273 636h5v1h-5zM278 637h4v1h-4zM282 636h1v1h-1zM283 635h1v1h-1zM284 634h1v1h-1zM285 633h1v1h-1zM286 632h1v1h-1zM287 631h1v1h-1zM288 630h1v1h-1zM289 629h1v1h-1zM290 628h6v1h-6zM296 629h4v1h-4zM300 630h2v1h-2zM302 631h2v1h-2zM304 632h2v1h-2zM306 633h2v1h-2zM308 632h4v1h-4zM312 631h3v1h-3zM315 630h1v1h-1zM316 629h2v1h-2zM318 628h2v1h-2zM320 627h1v1h-1zM321 626h2v1h-2zM323 625h4v1h-4zM327 624h8v1h-8zM335 625h7v1h-7zM342 626h14v1h-14zM356 627h2v1h-2zM358 628h2v1h-2zM360 629h2v1h-2zM362 630h4v1h-4zM366 631h5v1h-5zM371 630h3v1h-3zM374 629h6v1h-6zM380 630h4v1h-4zM384 631h2v1h-2zM386 630h4v1h-4zM390 629h4v1h-4zM394 630h1v1h-1zM395 631h1v1h-1zM396 632h1v1h-1zM397 633h2v1h-2zM399 634h1v1h-1zM400 635h1v1h-1zM401 636h1v1h-1zM402 637h1v1h-1zM403 638h2v1h-2zM405 639h1v1h-1zM406 640h2v1h-2zM408 641h2v1h-2zM410 642h5v1h-5zM415 643h4v1h-4zM419 642h3v1h-3zM422 641h3v1h-3zM425 640h2v1h-2zM427 641h1v1h-1zM428 642h1v1h-1zM429 643h2v1h-2zM431 644h1v1h-1zM432 645h2v1h-2zM434 646h1v1h-1zM435 645h2v1h-2zM437 644h3v1h-3zM440 643h14v1h-14zM454 644h4v1h-4zM458 645h2v1h-2zM460 646h2v1h-2zM462 647h2v1h-2zM464 648h2v1h-2zM466 647h2v1h-2zM468 646h2v1h-2zM470 645h2v1h-2zM472 644h2v1h-2zM474 643h4v1h-4zM478 642h8v1h-8zM486 643h5v1h-5zM491 642h3v1h-3zM494 641h2v1h-2zM496 640h5v1h-5zM501 641h6v1h-6zM507 640h4v1h-4zM511 639h3v1h-3zM514 638h2v1h-2zM516 637h1v1h-1zM517 636h2v1h-2zM519 635h1v1h-1zM520 634h2v1h-2zM522 633h6v1h-6zM528 634h8v1h-8zM536 635h3v1h-3zM539 636h2v1h-2zM541 637h2v1h-2zM543 638h2v1h-2zM545 639h3v1h-3zM548 638h2v1h-2zM550 637h2v1h-2zM552 636h10v1h-10zM562 635h1v1h-1zM563 634h2v1h-2zM565 633h1v1h-1zM566 632h2v1h-2zM568 631h1v1h-1zM569 630h3v1h-3zM572 631h2v1h-2zM574 632h2v1h-2zM576 633h2v1h-2zM578 634h10v1h-10zM588 633h7v1h-7zM595 634h2v1h-2zM597 635h2v1h-2zM599 636h2v1h-2zM601 637h5v1h-5zM606 638h7v1h-7zM613 639h6v1h-6zM619 640h16v1h-16zM635 641h3v1h-3zM638 642h3v1h-3zM641 643h2v1h-2zM643 642h1v1h-1zM644 641h1v1h-1zM645 640h1v1h-1zM646 639h1v1h-1zM647 638h1v1h-1zM648 637h1v1h-1zM649 636h7v1h-7zM656 637h3v1h-3zM659 636h2v1h-2zM661 635h3v1h-3zM664 634h8v1h-8zM672 635h13v1h-13zM685 636h4v1h-4zM689 637h5v1h-5zM694 638h13v1h-13zM707 639h3v1h-3zM710 640h2v1h-2zM712 641h2v1h-2zM714 642h17v1h-17zM731 641h3v1h-3zM734 640h3v1h-3zM737 639h3v1h-3zM740 640h4v1h-4zM744 641h10v1h-10zM754 640h2v1h-2zM756 639h1v1h-1zM757 638h1v1h-1zM758 637h2v1h-2zM760 636h1v1h-1zM761 635h3v1h-3zM764 636h2v1h-2zM766 637h3v1h-3zM769 638h5v1h-5zM774 639h7v1h-7zM781 640h6v1h-6zM787 639h3v1h-3zM790 638h2v1h-2zM792 637h3v1h-3zM795 636h1v1h-1zM796 635h2v1h-2zM798 634h2v1h-2zM800 633h1v1h-1zM801 632h2v1h-2zM803 631h4v1h-4zM807 630h6v1h-6zM813 631h5v1h-5zM818 632h3v1h-3zM821 631h8v1h-8zM829 632h4v1h-4zM833 633h4v1h-4zM837 632h7v1h-7zM844 631h6v1h-6zM850 630h2v1h-2zM852 629h1v1h-1zM853 628h2v1h-2zM855 627h1v1h-1zM856 626h1v1h-1zM857 625h2v1h-2zM859 624h4v1h-4zM863 623h15v1h-15zM878 624h4v1h-4zM882 625h1v1h-1zM883 624h4v1h-4zM887 623h3v1h-3zM890 622h1v1h-1zM891 621h2v1h-2zM893 620h1v1h-1zM894 619h1v1h-1zM895 618h1v1h-1zM896 617h1v1h-1zM897 616h1v1h-1zM898 616h1v2h-1zM899 618h1v1h-1zM900 619h1v1h-1zM901 620h1v1h-1zM902 621h1v1h-1zM903 622h1v2h-1zM904 624h1v1h-1zM905 625h1v1h-1zM906 626h1v1h-1zM907 625h4v1h-4zM911 624h8v1h-8zM919 625h3v1h-3zM922 624h2v1h-2zM924 623h3v1h-3zM927 622h2v1h-2zM929 621h1v1h-1zM930 622h1v1h-1zM931 623h2v1h-2zM933 624h2v1h-2zM935 625h1v1h-1zM936 626h2v1h-2zM938 627h2v1h-2zM940 626h6v1h-6zM946 625h1v1h-1zM947 624h2v1h-2zM949 623h1v1h-1zM950 622h2v1h-2zM952 621h1v1h-1zM953 620h4v1h-4zM957 621h4v1h-4zM961 622h4v1h-4zM965 623h4v1h-4zM969 624h2v1h-2zM971 623h4v1h-4zM975 622h12v1h-12zM987 621h2v1h-2zM989 620h3v1h-3zM992 619h3v1h-3zM995 618h8v1h-8zM1003 619h3v1h-3zM1006 620h3v1h-3zM1009 621h7v1h-7zM1016 622h4v1h-4zM1020 623h3v1h-3zM1023 624h2v1h-2zM1025 625h3v1h-3zM1028 624h8v1h-8zM1036 623h6v1h-6zM1042 624h1v1h-1zM1043 625h1v2h-1zM1044 627h1v1h-1zM1045 628h1v1h-1zM1046 629h1v1h-1zM1047 630h1v1h-1zM1048 631h1v2h-1zM1049 633h2v1h-2zM1051 632h3v1h-3zM1054 631h2v1h-2zM1056 630h5v1h-5zM1061 629h5v1h-5zM1066 628h1v1h-1zM1067 627h2v1h-2zM1069 626h1v1h-1zM1070 625h1v1h-1zM1071 624h2v1h-2zM1073 623h6v1h-6zM1079 624h4v1h-4zM1083 623h4v1h-4zM1087 622h7v1h-7zM1094 621h5v1h-5zM1099 622h3v1h-3zM1102 623h3v1h-3zM1105 624h2v1h-2zM1107 625h1v1h-1zM1108 626h1v1h-1zM1109 627h1v1h-1zM1110 628h1v1h-1zM1111 629h1v1h-1zM1112 630h1v1h-1zM1113 631h1v1h-1zM1114 632h4v1h-4zM1118 633h7v1h-7zM1125 632h9v1h-9zM1134 633h5v1h-5zM1139 632h4v1h-4zM1143 631h2v1h-2zM1145 631h1v2h-1zM1146 633h1v1h-1zM1147 634h1v2h-1zM1148 636h1v1h-1zM1149 637h1v2h-1zM1150 639h1v2h-1zM1151 641h1v1h-1zM1152 642h1v2h-1zM1153 644h3v1h-3zM1156 645h2v1h-2zM1158 646h3v1h-3zM1161 647h4v1h-4zM1165 646h12v1h-12z" fill="#1e90ff" shape-rendering="crispEdges"/>
<text x="12.3" y="611" fill="#000" stroke="#000" stroke-width="0.3" font-size="10.1" textLength="68.5" lengthAdjust="spacingAndGlyphs" >RSI(14) 36.3675</text>
<text x="1199.5" y="609" fill="#000" stroke="#000" stroke-width="0.3" font-size="10.1" textLength="15" lengthAdjust="spacingAndGlyphs" >100</text>
<text x="1198.5" y="625" fill="#000" stroke="#000" stroke-width="0.3" font-size="10.1" textLength="10" lengthAdjust="spacingAndGlyphs" >70</text>
<text x="1198.5" y="655" fill="#000" stroke="#000" stroke-width="0.3" font-size="10.1" textLength="10" lengthAdjust="spacingAndGlyphs" >30</text>
<text x="1199.4" y="670" fill="#000" stroke="#000" stroke-width="0.3" font-size="10.1" textLength="5" lengthAdjust="spacingAndGlyphs" >0</text>
<rect x="9" y="674" width="1" height="3" fill="#000"/>
<text x="7.8" y="686" fill="#000" stroke="#000" stroke-width="0.3" font-size="10.1" textLength="52" lengthAdjust="spacingAndGlyphs" >15 Mar 2022</text>
<rect x="73" y="674" width="1" height="3" fill="#000"/>
<text x="71.8" y="686" fill="#000" stroke="#000" stroke-width="0.3" font-size="10.1" textLength="55" lengthAdjust="spacingAndGlyphs" >17 Mar 04:00</text>
<rect x="137" y="674" width="1" height="3" fill="#000"/>
<text x="135.8" y="686" fill="#000" stroke="#000" stroke-width="0.3" font-size="10.1" textLength="55" lengthAdjust="spacingAndGlyphs" >18 Mar 12:00</text>
<rect x="201" y="674" width="1" height="3" fill="#000"/>
<text x="199.8" y="686" fill="#000" stroke="#000" stroke-width="0.3" font-size="10.1" textLength="55" lengthAdjust="spacingAndGlyphs" >21 Mar 20:00</text>
<rect x="265" y="674" width="1" height="3" fill="#000"/>
<text x="263.8" y="686" fill="#000" stroke="#000" stroke-width="0.3" font-size="10.1" textLength="55" lengthAdjust="spacingAndGlyphs" >23 Mar 04:00</text>
<rect x="329" y="674" width="1" height="3" fill="#000"/>
<text x="327.8" y="686" fill="#000" stroke="#000" stroke-width="0.3" font-size="10.1" textLength="55" lengthAdjust="spacingAndGlyphs" >24 Mar 12:00</text>
<rect x="393" y="674" width="1" height="3" fill="#000"/>
<text x="391.8" y="686" fill="#000" stroke="#000" stroke-width="0.3" font-size="10.1" textLength="55" lengthAdjust="spacingAndGlyphs" >27 Mar 23:00</text>
<rect x="457" y="674" width="1" height="3" fill="#000"/>
<text x="455.8" y="686" fill="#000" stroke="#000" stroke-width="0.3" font-size="10.1" textLength="55" lengthAdjust="spacingAndGlyphs" >29 Mar 04:00</text>
<rect x="521" y="674" width="1" height="3" fill="#000"/>
<text x="519.8" y="686" fill="#000" stroke="#000" stroke-width="0.3" font-size="10.1" textLength="55" lengthAdjust="spacingAndGlyphs" >30 Mar 12:00</text>
<rect x="585" y="674" width="1" height="3" fill="#000"/>
<text x="583.8" y="686" fill="#000" stroke="#000" stroke-width="0.3" font-size="10.1" textLength="55" lengthAdjust="spacingAndGlyphs" >31 Mar 20:00</text>
<rect x="649" y="674" width="1" height="3" fill="#000"/>
<text x="647.8" y="686" fill="#000" stroke="#000" stroke-width="0.3" font-size="10.1" textLength="49" lengthAdjust="spacingAndGlyphs" >4 Apr 04:00</text>
<rect x="713" y="674" width="1" height="3" fill="#000"/>
<text x="711.8" y="686" fill="#000" stroke="#000" stroke-width="0.3" font-size="10.1" textLength="49" lengthAdjust="spacingAndGlyphs" >5 Apr 12:00</text>
<rect x="777" y="674" width="1" height="3" fill="#000"/>
<text x="775.8" y="686" fill="#000" stroke="#000" stroke-width="0.3" font-size="10.1" textLength="49" lengthAdjust="spacingAndGlyphs" >6 Apr 20:00</text>
<rect x="841" y="674" width="1" height="3" fill="#000"/>
<text x="839.8" y="686" fill="#000" stroke="#000" stroke-width="0.3" font-size="10.1" textLength="49" lengthAdjust="spacingAndGlyphs" >8 Apr 04:00</text>
<rect x="905" y="674" width="1" height="3" fill="#000"/>
<text x="903.8" y="686" fill="#000" stroke="#000" stroke-width="0.3" font-size="10.1" textLength="54" lengthAdjust="spacingAndGlyphs" >11 Apr 12:00</text>
<rect x="969" y="674" width="1" height="3" fill="#000"/>
<text x="967.8" y="686" fill="#000" stroke="#000" stroke-width="0.3" font-size="10.1" textLength="54" lengthAdjust="spacingAndGlyphs" >12 Apr 20:00</text>
<rect x="1033" y="674" width="1" height="3" fill="#000"/>
<text x="1031.8" y="686" fill="#000" stroke="#000" stroke-width="0.3" font-size="10.1" textLength="54" lengthAdjust="spacingAndGlyphs" >14 Apr 04:00</text>
<rect x="1097" y="674" width="1" height="3" fill="#000"/>
<text x="1095.8" y="686" fill="#000" stroke="#000" stroke-width="0.3" font-size="10.1" textLength="54" lengthAdjust="spacingAndGlyphs" >18 Apr 08:00</text>
<rect x="1161" y="674" width="1" height="3" fill="#000"/>
<text x="1159.8" y="686" fill="#000" stroke="#000" stroke-width="0.3" font-size="10.1" textLength="54" lengthAdjust="spacingAndGlyphs" >19 Apr 16:00</text>
<g font-size="11" fill="#222">
<text x="22" y="707">USOIL-,H4</text><text x="100" y="707">UKOIL-,H4</text>
<text x="180" y="707" font-weight="bold">XAUUSD-,H4</text>
<text x="285" y="707">SPT_DXY,H4</text><text x="385" y="707">CHINA300,H4</text>
</g>
</svg>
</body></html>
